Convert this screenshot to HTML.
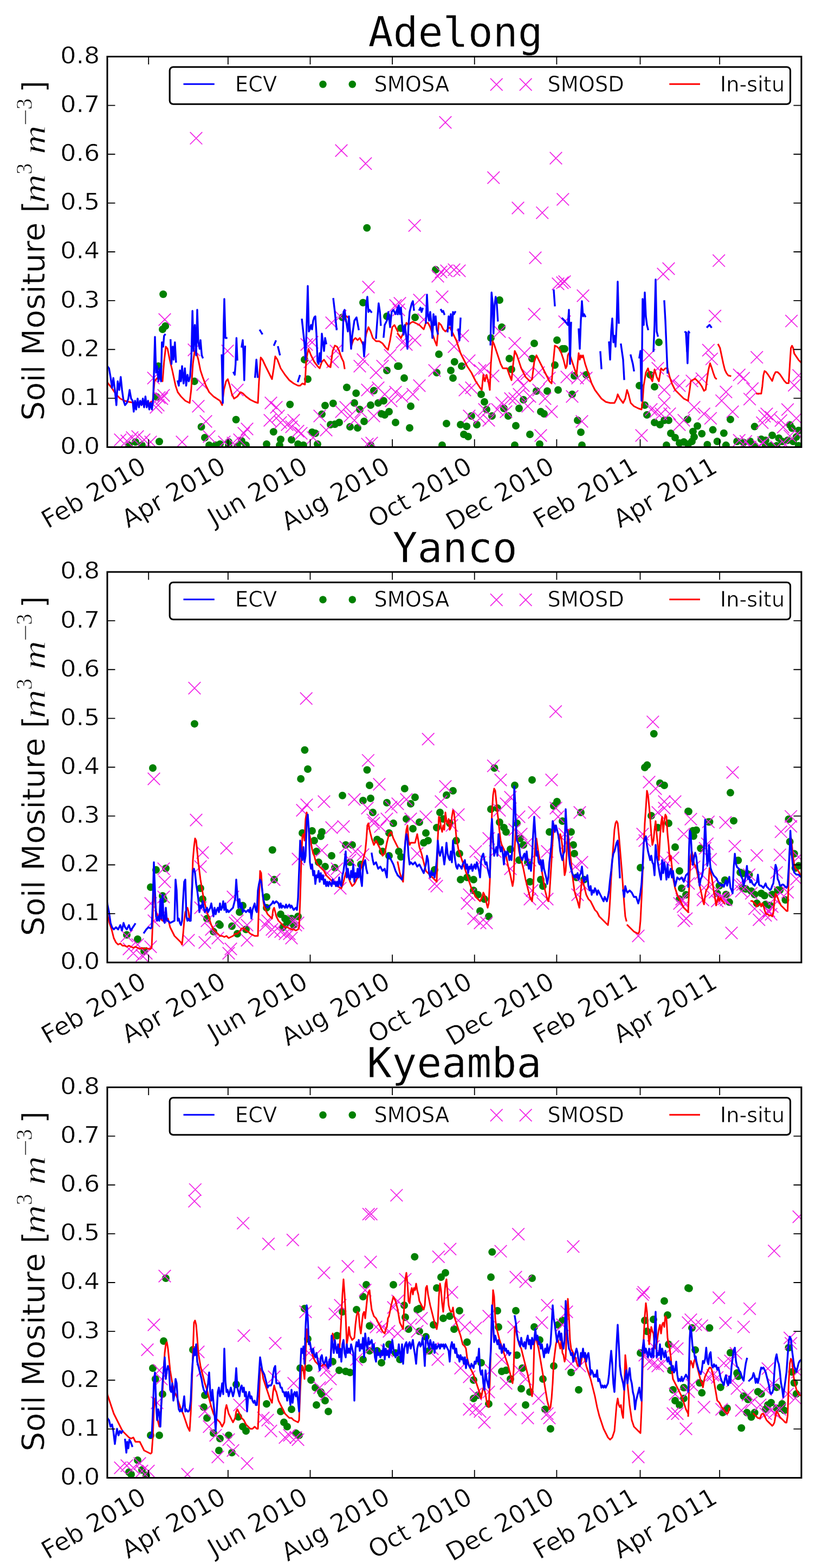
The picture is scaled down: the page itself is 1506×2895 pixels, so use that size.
<!DOCTYPE html><html><head><meta charset="utf-8"><title>Soil moisture</title><style>html,body{margin:0;padding:0;background:#fff;}svg{display:block;}.t{font-family:"DejaVu Sans","Liberation Sans",sans-serif;fill:#000;stroke:#fff;stroke-width:0.55px;}.mono{font-family:"DejaVu Sans Mono","Liberation Mono",monospace;fill:#000;stroke:#fff;stroke-width:0.5px;}.mi{font-family:"Liberation Serif","DejaVu Serif",serif;font-style:italic;fill:#000;stroke:#fff;stroke-width:0.9px;}.sr{font-family:"Liberation Serif","DejaVu Serif",serif;fill:#000;stroke:#fff;stroke-width:0.6px;}</style></head><body>
<svg width="1506" height="2895" viewBox="0 0 1506 2895">
<rect width="1506" height="2895" fill="#fff"/>
<clipPath id="c0"><rect x="198.0" y="104.5" width="1281.0" height="721.0"/></clipPath>
<g clip-path="url(#c0)">
<g fill="#008000"><circle cx="301.2" cy="543.2" r="7.0"/><circle cx="300" cy="608" r="7.0"/><circle cx="305.2" cy="602" r="7.0"/><circle cx="292.4" cy="676" r="7.0"/><circle cx="358.8" cy="704" r="7.0"/><circle cx="288.8" cy="732.8" r="7.0"/><circle cx="294" cy="815.2" r="7.0"/><circle cx="371.6" cy="788" r="7.0"/><circle cx="435.6" cy="774.8" r="7.0"/><circle cx="378" cy="808" r="7.0"/><circle cx="406" cy="820" r="7.0"/><circle cx="422" cy="816" r="7.0"/><circle cx="446" cy="814" r="7.0"/><circle cx="492" cy="820" r="7.0"/><circle cx="504.8" cy="797.2" r="7.0"/><circle cx="518" cy="811.2" r="7.0"/><circle cx="535.2" cy="746.8" r="7.0"/><circle cx="538" cy="812" r="7.0"/><circle cx="550" cy="820" r="7.0"/><circle cx="562" cy="664" r="7.0"/><circle cx="568" cy="700" r="7.0"/><circle cx="576" cy="798" r="7.0"/><circle cx="582" cy="800" r="7.0"/><circle cx="586" cy="820" r="7.0"/><circle cx="594" cy="764.8" r="7.0"/><circle cx="600" cy="748.8" r="7.0"/><circle cx="614.8" cy="744.8" r="7.0"/><circle cx="610" cy="784" r="7.0"/><circle cx="618" cy="783.2" r="7.0"/><circle cx="626" cy="780" r="7.0"/><circle cx="640" cy="715.2" r="7.0"/><circle cx="657.2" cy="726" r="7.0"/><circle cx="654" cy="744" r="7.0"/><circle cx="664" cy="756" r="7.0"/><circle cx="646" cy="788" r="7.0"/><circle cx="660" cy="790" r="7.0"/><circle cx="672" cy="778" r="7.0"/><circle cx="670" cy="558.8" r="7.0"/><circle cx="632" cy="586" r="7.0"/><circle cx="684" cy="748" r="7.0"/><circle cx="690" cy="721.2" r="7.0"/><circle cx="698" cy="744" r="7.0"/><circle cx="714" cy="684" r="7.0"/><circle cx="708" cy="740" r="7.0"/><circle cx="704" cy="764" r="7.0"/><circle cx="710" cy="766" r="7.0"/><circle cx="718" cy="760" r="7.0"/><circle cx="730" cy="780" r="7.0"/><circle cx="734" cy="676" r="7.0"/><circle cx="714" cy="584" r="7.0"/><circle cx="250" cy="816" r="7.0"/><circle cx="238" cy="822" r="7.0"/><circle cx="262" cy="822" r="7.0"/><circle cx="386" cy="822" r="7.0"/><circle cx="398" cy="822" r="7.0"/><circle cx="422" cy="822" r="7.0"/><circle cx="438" cy="824" r="7.0"/><circle cx="454" cy="822" r="7.0"/><circle cx="516" cy="822" r="7.0"/><circle cx="560" cy="822" r="7.0"/><circle cx="684" cy="822" r="7.0"/><circle cx="804" cy="498" r="7.0"/><circle cx="766" cy="586" r="7.0"/><circle cx="740" cy="606" r="7.0"/><circle cx="810" cy="654" r="7.0"/><circle cx="736" cy="676" r="7.0"/><circle cx="746" cy="698" r="7.0"/><circle cx="806" cy="688" r="7.0"/><circle cx="832" cy="684" r="7.0"/><circle cx="836" cy="698" r="7.0"/><circle cx="838.8" cy="668" r="7.0"/><circle cx="852" cy="676" r="7.0"/><circle cx="922" cy="554" r="7.0"/><circle cx="926" cy="604" r="7.0"/><circle cx="906" cy="624" r="7.0"/><circle cx="940" cy="662" r="7.0"/><circle cx="944" cy="682" r="7.0"/><circle cx="986" cy="634" r="7.0"/><circle cx="982" cy="662" r="7.0"/><circle cx="1028" cy="628" r="7.0"/><circle cx="1038" cy="644" r="7.0"/><circle cx="1042" cy="644" r="7.0"/><circle cx="1024" cy="674" r="7.0"/><circle cx="1030" cy="720" r="7.0"/><circle cx="1010" cy="722" r="7.0"/><circle cx="990" cy="722" r="7.0"/><circle cx="966" cy="738" r="7.0"/><circle cx="958" cy="754" r="7.0"/><circle cx="930" cy="754" r="7.0"/><circle cx="938" cy="768" r="7.0"/><circle cx="898" cy="756" r="7.0"/><circle cx="894" cy="742" r="7.0"/><circle cx="888" cy="728" r="7.0"/><circle cx="908" cy="768" r="7.0"/><circle cx="870" cy="768" r="7.0"/><circle cx="880" cy="784" r="7.0"/><circle cx="850" cy="784" r="7.0"/><circle cx="861.2" cy="787.2" r="7.0"/><circle cx="856" cy="802" r="7.0"/><circle cx="864" cy="806" r="7.0"/><circle cx="824" cy="782" r="7.0"/><circle cx="756" cy="790" r="7.0"/><circle cx="758" cy="750" r="7.0"/><circle cx="952" cy="786" r="7.0"/><circle cx="978" cy="802" r="7.0"/><circle cx="998" cy="760" r="7.0"/><circle cx="1004" cy="764" r="7.0"/><circle cx="1056" cy="728" r="7.0"/><circle cx="1060" cy="694" r="7.0"/><circle cx="1082" cy="692" r="7.0"/><circle cx="1066" cy="776" r="7.0"/><circle cx="1072" cy="798" r="7.0"/><circle cx="1074" cy="822" r="7.0"/><circle cx="816" cy="822" r="7.0"/><circle cx="950" cy="822" r="7.0"/><circle cx="996" cy="820" r="7.0"/><circle cx="1180" cy="712" r="7.0"/><circle cx="1190" cy="748" r="7.0"/><circle cx="1194" cy="766" r="7.0"/><circle cx="1208" cy="780" r="7.0"/><circle cx="1218" cy="784" r="7.0"/><circle cx="1226" cy="776" r="7.0"/><circle cx="1234" cy="776" r="7.0"/><circle cx="1208" cy="714" r="7.0"/><circle cx="1216" cy="632" r="7.0"/><circle cx="1200" cy="692" r="7.0"/><circle cx="1238" cy="800" r="7.0"/><circle cx="1246" cy="808" r="7.0"/><circle cx="1254" cy="818" r="7.0"/><circle cx="1262" cy="816" r="7.0"/><circle cx="1270" cy="820" r="7.0"/><circle cx="1230" cy="822" r="7.0"/><circle cx="1348" cy="774.4" r="7.0"/><circle cx="1392.7" cy="787.6" r="7.0"/><circle cx="1315.6" cy="793.6" r="7.0"/><circle cx="1335.9" cy="799.7" r="7.0"/><circle cx="1457.7" cy="784.5" r="7.0"/><circle cx="1461.7" cy="790.6" r="7.0"/><circle cx="1425.2" cy="803.8" r="7.0"/><circle cx="1469.8" cy="806.8" r="7.0"/><circle cx="1473.9" cy="794.7" r="7.0"/><circle cx="1437.4" cy="808.9" r="7.0"/><circle cx="1404.9" cy="810.9" r="7.0"/><circle cx="1413" cy="812.9" r="7.0"/><circle cx="1443.5" cy="815" r="7.0"/><circle cx="1453.6" cy="812.9" r="7.0"/><circle cx="1463.8" cy="815" r="7.0"/><circle cx="1360.2" cy="815" r="7.0"/><circle cx="1372.4" cy="817" r="7.0"/><circle cx="1384.6" cy="815" r="7.0"/><circle cx="1323.7" cy="815" r="7.0"/><circle cx="1305.4" cy="821" r="7.0"/><circle cx="1287.1" cy="786.5" r="7.0"/><circle cx="1279" cy="796.7" r="7.0"/><circle cx="1295.3" cy="800.7" r="7.0"/><circle cx="1281.1" cy="806.8" r="7.0"/><circle cx="1277" cy="815" r="7.0"/><circle cx="1268.9" cy="774.4" r="7.0"/><circle cx="1339.9" cy="822.1" r="7.0"/><circle cx="1413" cy="823.1" r="7.0"/><circle cx="1423.2" cy="823.1" r="7.0"/><circle cx="1433.3" cy="823.1" r="7.0"/><circle cx="1473.9" cy="823.1" r="7.0"/><circle cx="1392.7" cy="823.1" r="7.0"/><circle cx="677.2" cy="420.8" r="7.0"/></g>
<path d="M292.7 578.7L315.3 601.3M292.7 601.3L315.3 578.7M271.9 686.7L294.5 709.3M271.9 709.3L294.5 686.7M282.7 722.7L305.3 745.3M282.7 745.3L305.3 722.7M287.5 724.7L310.1 747.3M287.5 747.3L310.1 724.7M290.7 718.7L313.3 741.3M290.7 741.3L313.3 718.7M280.7 736.7L303.3 759.3M280.7 759.3L303.3 736.7M276.7 740.7L299.3 763.3M276.7 763.3L299.3 740.7M408.7 636.7L431.3 659.3M408.7 659.3L431.3 636.7M346.7 634.7L369.3 657.3M346.7 657.3L369.3 634.7M362.7 698.7L385.3 721.3M362.7 721.3L385.3 698.7M354.7 738.7L377.3 761.3M354.7 761.3L377.3 738.7M368.7 766.7L391.3 789.3M368.7 789.3L391.3 766.7M426.7 708.7L449.3 731.3M426.7 731.3L449.3 708.7M444.7 780.7L467.3 803.3M444.7 803.3L467.3 780.7M438.7 788.7L461.3 811.3M438.7 811.3L461.3 788.7M430.7 800.7L453.3 823.3M430.7 823.3L453.3 800.7M488.7 732.7L511.3 755.3M488.7 755.3L511.3 732.7M498.7 740.7L521.3 763.3M498.7 763.3L521.3 740.7M502.7 756.7L525.3 779.3M502.7 779.3L525.3 756.7M486.7 764.7L509.3 787.3M486.7 787.3L509.3 764.7M506.7 768.7L529.3 791.3M506.7 791.3L529.3 768.7M518.7 772.7L541.3 795.3M518.7 795.3L541.3 772.7M530.7 764.7L553.3 787.3M530.7 787.3L553.3 764.7M526.7 776.7L549.3 799.3M526.7 799.3L549.3 776.7M538.7 784.7L561.3 807.3M538.7 807.3L561.3 784.7M544.7 788.7L567.3 811.3M544.7 811.3L567.3 788.7M554.7 624.7L577.3 647.3M554.7 647.3L577.3 624.7M564.7 620.7L587.3 643.3M564.7 643.3L587.3 620.7M560.7 656.7L583.3 679.3M560.7 679.3L583.3 656.7M600.7 584.7L623.3 607.3M600.7 607.3L623.3 584.7M616.7 572.7L639.3 595.3M616.7 595.3L639.3 572.7M608.7 636.7L631.3 659.3M608.7 659.3L631.3 636.7M602.7 656.7L625.3 679.3M602.7 679.3L625.3 656.7M652.7 664.7L675.3 687.3M652.7 687.3L675.3 664.7M658.7 652.7L681.3 675.3M658.7 675.3L681.3 652.7M682.7 676.7L705.3 699.3M682.7 699.3L705.3 676.7M694.7 664.7L717.3 687.3M694.7 687.3L717.3 664.7M708.7 644.7L731.3 667.3M708.7 667.3L731.3 644.7M666.7 708.7L689.3 731.3M666.7 731.3L689.3 708.7M686.7 704.7L709.3 727.3M686.7 727.3L709.3 704.7M698.7 716.7L721.3 739.3M698.7 739.3L721.3 716.7M710.7 728.7L733.3 751.3M710.7 751.3L733.3 728.7M718.7 712.7L741.3 735.3M718.7 735.3L741.3 712.7M626.7 740.7L649.3 763.3M626.7 763.3L649.3 740.7M618.7 748.7L641.3 771.3M618.7 771.3L641.3 748.7M634.7 756.7L657.3 779.3M634.7 779.3L657.3 756.7M642.7 764.7L665.3 787.3M642.7 787.3L665.3 764.7M654.7 748.7L677.3 771.3M654.7 771.3L677.3 748.7M678.7 756.7L701.3 779.3M678.7 779.3L701.3 756.7M578.7 756.7L601.3 779.3M578.7 779.3L601.3 756.7M590.7 782.7L613.3 805.3M590.7 805.3L613.3 782.7M566.7 796.7L589.3 819.3M566.7 819.3L589.3 796.7M668.7 518.7L691.3 541.3M668.7 541.3L691.3 518.7M718.7 552.7L741.3 575.3M718.7 575.3L741.3 552.7M674.7 806.7L697.3 829.3M674.7 829.3L697.3 806.7M666.7 808.7L689.3 831.3M666.7 831.3L689.3 808.7M210.7 800.7L233.3 823.3M210.7 823.3L233.3 800.7M222.7 802.7L245.3 825.3M222.7 825.3L245.3 802.7M232.7 796.7L255.3 819.3M232.7 819.3L255.3 796.7M242.7 794.7L265.3 817.3M242.7 817.3L265.3 794.7M254.7 800.7L277.3 823.3M254.7 823.3L277.3 800.7M266.7 804.7L289.3 827.3M266.7 827.3L289.3 804.7M324.7 804.7L347.3 827.3M324.7 827.3L347.3 804.7M374.7 794.7L397.3 817.3M374.7 817.3L397.3 794.7M402.7 804.7L425.3 827.3M402.7 827.3L425.3 804.7M418.7 806.7L441.3 829.3M418.7 829.3L441.3 806.7M796.7 498.7L819.3 521.3M796.7 521.3L819.3 498.7M802.7 490.7L825.3 513.3M802.7 513.3L825.3 490.7M812.7 488.7L835.3 511.3M812.7 511.3L835.3 488.7M826.7 486.7L849.3 509.3M826.7 509.3L849.3 486.7M836.7 488.7L859.3 511.3M836.7 511.3L859.3 488.7M804.7 536.7L827.3 559.3M804.7 559.3L827.3 536.7M762.7 542.7L785.3 565.3M762.7 565.3L785.3 542.7M726.7 548.7L749.3 571.3M726.7 571.3L749.3 548.7M724.7 560.7L747.3 583.3M724.7 583.3L747.3 560.7M770.7 578.7L793.3 601.3M770.7 601.3L793.3 578.7M974.7 568.7L997.3 591.3M974.7 591.3L997.3 568.7M1018.7 512.7L1041.3 535.3M1018.7 535.3L1041.3 512.7M1030.7 508.7L1053.3 531.3M1030.7 531.3L1053.3 508.7M1026.7 510.7L1049.3 533.3M1026.7 533.3L1049.3 510.7M1064.7 534.7L1087.3 557.3M1064.7 557.3L1087.3 534.7M1222.7 484.7L1245.3 507.3M1222.7 507.3L1245.3 484.7M1212.7 494.7L1235.3 517.3M1212.7 517.3L1235.3 494.7M1030.7 582.7L1053.3 605.3M1030.7 605.3L1053.3 582.7M938.7 622.7L961.3 645.3M938.7 645.3L961.3 622.7M910.7 600.7L933.3 623.3M910.7 623.3L933.3 600.7M956.7 640.7L979.3 663.3M956.7 663.3L979.3 640.7M826.7 628.7L849.3 651.3M826.7 651.3L849.3 628.7M738.7 624.7L761.3 647.3M738.7 647.3L761.3 624.7M754.7 616.7L777.3 639.3M754.7 639.3L777.3 616.7M730.7 620.7L753.3 643.3M730.7 643.3L753.3 620.7M790.7 672.7L813.3 695.3M790.7 695.3L813.3 672.7M762.7 700.7L785.3 723.3M762.7 723.3L785.3 700.7M750.7 716.7L773.3 739.3M750.7 739.3L773.3 716.7M730.7 720.7L753.3 743.3M730.7 743.3L753.3 720.7M842.7 608.7L865.3 631.3M842.7 631.3L865.3 608.7M854.7 654.7L877.3 677.3M854.7 677.3L877.3 654.7M882.7 668.7L905.3 691.3M882.7 691.3L905.3 668.7M898.7 682.7L921.3 705.3M898.7 705.3L921.3 682.7M874.7 672.7L897.3 695.3M874.7 695.3L897.3 672.7M846.7 708.7L869.3 731.3M846.7 731.3L869.3 708.7M858.7 704.7L881.3 727.3M858.7 727.3L881.3 704.7M944.7 688.7L967.3 711.3M944.7 711.3L967.3 688.7M954.7 700.7L977.3 723.3M954.7 723.3L977.3 700.7M930.7 724.7L953.3 747.3M930.7 747.3L953.3 724.7M914.7 732.7L937.3 755.3M914.7 755.3L937.3 732.7M906.7 744.7L929.3 767.3M906.7 767.3L929.3 744.7M890.7 764.7L913.3 787.3M890.7 787.3L913.3 764.7M874.7 760.7L897.3 783.3M874.7 783.3L897.3 760.7M882.7 744.7L905.3 767.3M882.7 767.3L905.3 744.7M854.7 756.7L877.3 779.3M854.7 779.3L877.3 756.7M922.7 748.7L945.3 771.3M922.7 771.3L945.3 748.7M938.7 724.7L961.3 747.3M938.7 747.3L961.3 724.7M946.7 716.7L969.3 739.3M946.7 739.3L969.3 716.7M962.7 738.7L985.3 761.3M962.7 761.3L985.3 738.7M966.7 720.7L989.3 743.3M966.7 743.3L989.3 720.7M982.7 708.7L1005.3 731.3M982.7 731.3L1005.3 708.7M994.7 724.7L1017.3 747.3M994.7 747.3L1017.3 724.7M1006.7 748.7L1029.3 771.3M1006.7 771.3L1029.3 748.7M986.7 792.7L1009.3 815.3M986.7 815.3L1009.3 792.7M960.7 678.7L983.3 701.3M960.7 701.3L983.3 678.7M982.7 676.7L1005.3 699.3M982.7 699.3L1005.3 676.7M1002.7 686.7L1025.3 709.3M1002.7 709.3L1025.3 686.7M1034.7 684.7L1057.3 707.3M1034.7 707.3L1057.3 684.7M1054.7 686.7L1077.3 709.3M1054.7 709.3L1077.3 686.7M1070.7 686.7L1093.3 709.3M1070.7 709.3L1093.3 686.7M1044.7 720.7L1067.3 743.3M1044.7 743.3L1067.3 720.7M1062.7 766.7L1085.3 789.3M1062.7 789.3L1085.3 766.7M1186.7 644.7L1209.3 667.3M1186.7 667.3L1209.3 644.7M1202.7 668.7L1225.3 691.3M1202.7 691.3L1225.3 668.7M1230.7 692.7L1253.3 715.3M1230.7 715.3L1253.3 692.7M1242.7 700.7L1265.3 723.3M1242.7 723.3L1265.3 700.7M1214.7 708.7L1237.3 731.3M1214.7 731.3L1237.3 708.7M1214.7 732.7L1237.3 755.3M1214.7 755.3L1237.3 732.7M1198.7 748.7L1221.3 771.3M1198.7 771.3L1221.3 748.7M1190.7 744.7L1213.3 767.3M1190.7 767.3L1213.3 744.7M1208.7 752.7L1231.3 775.3M1208.7 775.3L1231.3 752.7M1224.7 752.7L1247.3 775.3M1224.7 775.3L1247.3 752.7M1242.7 772.7L1265.3 795.3M1242.7 795.3L1265.3 772.7M1250.7 764.7L1273.3 787.3M1250.7 787.3L1273.3 764.7M1172.7 792.7L1195.3 815.3M1172.7 815.3L1195.3 792.7M1308.3 572.2L1330.9 594.8M1308.3 594.8L1330.9 572.2M1449.4 581.4L1472 604M1449.4 604L1472 581.4M1296.1 635.2L1318.7 657.8M1296.1 657.8L1318.7 635.2M1302.2 651.4L1324.8 674M1302.2 674L1324.8 651.4M1385.5 648.4L1408.1 671M1385.5 671L1408.1 648.4M1353 680.8L1375.6 703.4M1353 703.4L1375.6 680.8M1361.1 686.9L1383.7 709.5M1361.1 709.5L1383.7 686.9M1377.3 706.2L1399.9 728.8M1377.3 728.8L1399.9 706.2M1372.3 725.5L1394.9 748.1M1372.3 748.1L1394.9 725.5M1328.6 712.3L1351.2 734.9M1328.6 734.9L1351.2 712.3M1320.5 728.5L1343.1 751.1M1320.5 751.1L1343.1 728.5M1340.8 748.8L1363.4 771.4M1340.8 771.4L1363.4 748.8M1288 752.9L1310.6 775.5M1288 775.5L1310.6 752.9M1300.2 761L1322.8 783.6M1300.2 783.6L1322.8 761M1269.8 740.7L1292.4 763.3M1269.8 763.3L1292.4 740.7M1265.7 692L1288.3 714.6M1265.7 714.6L1288.3 692M1284 687.9L1306.6 710.5M1284 710.5L1306.6 687.9M1454.5 700.1L1477.1 722.7M1454.5 722.7L1477.1 700.1M1462.6 681.9L1485.2 704.5M1462.6 704.5L1485.2 681.9M1442.3 744.8L1464.9 767.4M1442.3 767.4L1464.9 744.8M1399.7 757L1422.3 779.6M1399.7 779.6L1422.3 757M1395.6 769.1L1418.2 791.7M1395.6 791.7L1418.2 769.1M1403.7 752.9L1426.3 775.5M1403.7 775.5L1426.3 752.9M1411.9 759L1434.5 781.6M1411.9 781.6L1434.5 759M1430.1 765.1L1452.7 787.7M1430.1 787.7L1452.7 765.1M1434.2 777.3L1456.8 799.9M1434.2 799.9L1456.8 777.3M1458.5 761L1481.1 783.6M1458.5 783.6L1481.1 761M1365.2 803.7L1387.8 826.3M1365.2 826.3L1387.8 803.7M1353 801.6L1375.6 824.2M1353 824.2L1375.6 801.6M1397.6 805.7L1420.2 828.3M1397.6 828.3L1420.2 805.7M1446.4 793.5L1469 816.1M1446.4 816.1L1469 793.5M1460.6 789.4L1483.2 812M1460.6 812L1483.2 789.4M1438.2 809.7L1460.8 832.3M1438.2 832.3L1460.8 809.7M1373.3 813.8L1395.9 836.4M1373.3 836.4L1395.9 813.8M1389.5 811.8L1412.1 834.4M1389.5 834.4L1412.1 811.8M1422 813.8L1444.6 836.4M1422 836.4L1444.6 813.8M350.7 243.9L373.3 266.5M350.7 266.5L373.3 243.9M618.7 266.7L641.3 289.3M618.7 289.3L641.3 266.7M663.5 290.7L686.1 313.3M663.5 313.3L686.1 290.7M810.7 214.7L833.3 237.3M810.7 237.3L833.3 214.7M1014.7 280.7L1037.3 303.3M1014.7 303.3L1037.3 280.7M899.5 316.7L922.1 339.3M899.5 339.3L922.1 316.7M1027.5 356.7L1050.1 379.3M1027.5 379.3L1050.1 356.7M944.7 372.7L967.3 395.3M944.7 395.3L967.3 372.7M989.5 381.5L1012.1 404.1M989.5 404.1L1012.1 381.5M753.9 405.1L776.5 427.7M753.9 427.7L776.5 405.1M976.7 464.7L999.3 487.3M976.7 487.3L999.3 464.7M1315.4 469.9L1338 492.5M1315.4 492.5L1338 469.9" stroke="#f020e6" stroke-width="1.7" fill="none"/>
<polyline points="198,706 206,716 214,728 222,736 230,740 238,742 250,744 262,746 274,746 282,740 285.2,704 290,698 296,700 300,704 302.8,668 306,640 309.2,644 313.2,664 318,684 324,712 328,724 334,732 342,740 350,744 352.8,720 356,672 359.2,648 362.8,652 366,664 370,684 374,696 380,712 386,724 394,732 400,736 406,740 410,748 413.2,720 417.2,704 420.4,700 424,712 428,728 432,736 438,732 444,724 448,726 454,732 462,738 470,742 476,744 478,704 481.2,660 484.4,664 490,676 496,688 502,700 505.2,680 508,658 512,664 518,680 526,692 534,702 542,708 550,712 554,712 558,708 562.8,710 565.2,664 569.2,644 574,656 580,668 586,676 590,680 594,668 598,664 602,670 606,676 610,678 614,648 618,638 622,640 626,648 630,660 634,668 636,680" fill="none" stroke="#ff0000" stroke-width="3" stroke-linejoin="round" stroke-linecap="square"/>
<polyline points="640,584 644,588 648,640 652,628 656,624 660,628 664,624 668,632 672,640 676,616 680,604 684,612 688,624 694,630 700,630 706,634 712,642 716,646 720,628 724,604 728,600 734,612" fill="none" stroke="#ff0000" stroke-width="3" stroke-linejoin="round" stroke-linecap="square"/>
<polyline points="734,616 740,624 746,612 750,596 754,600 758,596 762,594 766,596 770,598 774,600 778,604 782,608 786,596 790,596 794,604 798,616 802,628 806,638 808,616 810,596 814,600 818,608 822,612 826,608 830,604 834,612 838,620 842,628 846,640 850,652 854,660 858,668 862,676 870,688 874,696 878,704 882,710 886,716 889.2,720 892,692 894.8,704 898,692 901.2,704 904,720 906,672 909.2,630 912,636 916,648 920,660 924,672 928,680 932,680 936,680 940,692 944,702 948,664 950,648 954,656 958,668 962,680 966,688 970,696 974,700 978,704 982,700 986,668 990,656 994,664 998,672 1002,680 1006,688 1010,696 1014,704 1018,708 1021.2,668 1024,638 1028,640 1032,644 1036,652 1040,664 1044,680 1046,676 1048,656 1050,652 1052,656 1056,668 1060,680 1064,692 1068,652 1070,664 1072,656 1074,660 1076,656 1080,672 1084,684 1088,696 1092,708 1098,720 1104,728 1110,736 1118,742 1126,744 1134,744 1138,736 1140,728 1144,736 1150,744 1154,736 1157.2,720 1160,728 1164,744 1170,750 1178,754 1184,756 1186,740 1188,712 1192,688 1196,680 1200,696 1204,704 1208,682 1212,696 1216,704 1220,680 1224,684 1228,680 1232,680 1236,696 1240,708 1246,720 1254,728 1262,736 1270,740" fill="none" stroke="#ff0000" stroke-width="3" stroke-linejoin="round" stroke-linecap="square"/>
<polyline points="1270.1,737.8 1272.9,719.5 1275,703.3 1279,701.3 1283.1,699.2 1287.1,703.3 1291.2,707.4 1295.3,713.5 1299.3,721.6 1302.4,719.5 1304.4,703.3 1307.4,683 1310.5,670.8 1313.5,678.9 1316.6,689.1 1319.6,697.2 1321.7,699.2" fill="none" stroke="#ff0000" stroke-width="3" stroke-linejoin="round" stroke-linecap="square"/>
<polyline points="1325.7,636.3 1328.8,642.4 1331.8,656.6 1334.8,670.8 1337.9,683 1340.9,689.1 1344,693.2 1348,694.2" fill="none" stroke="#ff0000" stroke-width="3" stroke-linejoin="round" stroke-linecap="square"/>
<polyline points="1396.8,726.7 1404.9,726.7 1406.9,713.5 1408.9,693.2 1411,685 1414,687.1 1417.1,691.1 1421.1,697.2 1425.2,703.3 1428.2,693.2 1431.3,687.1 1435.3,687.1 1439.4,691.1 1443.5,697.2 1447.5,703.3 1451.6,707.4 1455.6,707.4 1457.7,672.9 1459.7,642.4 1461.7,638.3 1463.8,642.4 1465.8,652.6 1469.8,658.6 1473.9,664.7 1482,672.9" fill="none" stroke="#ff0000" stroke-width="3" stroke-linejoin="round" stroke-linecap="square"/>
<polyline points="198,676 201.2,680 204,696 206.8,716 209.2,698 212,720 214.8,748 217.2,704 220,720 222.8,696 225.2,720 228,740 230.8,748 234,744 236.8,736 239.2,720 242,736 244.8,740 246.8,760 249.2,740 251.2,756 254,736 256.4,752 258.8,740 261.2,748 263.6,736 266,752 268.4,732 270.8,752 273.2,740 275.6,756 278,744 280.4,756 282.8,736 284.4,680 286,622 288,688 290,676 292.4,704 294.8,680 297.2,704 298.8,632 301.2,640 302.8,620 304.4,618" fill="none" stroke="#0000ff" stroke-width="3.4" stroke-linejoin="round" stroke-linecap="square"/>
<polyline points="314.8,628 316.4,672 318.8,640 320.4,664 322.8,632 324.8,668" fill="none" stroke="#0000ff" stroke-width="3.4" stroke-linejoin="round" stroke-linecap="square"/>
<polyline points="328,704 330,712 332,684 334,704 336,676 338.8,708 341.2,680 343.6,712 346,692 348.4,704 350.8,696 353.2,660 355.2,574 357.2,648 359.6,600 362,656 364,572 366,632 368.4,644 370,628 372.4,656 374,660" fill="none" stroke="#0000ff" stroke-width="3.4" stroke-linejoin="round" stroke-linecap="square"/>
<polyline points="409.2,656 411.2,744 412.8,600 414,552 416,624 418,624" fill="none" stroke="#0000ff" stroke-width="3.4" stroke-linejoin="round" stroke-linecap="square"/>
<polyline points="431.2,688 433.2,692 434.8,672 436.4,624 438,664" fill="none" stroke="#0000ff" stroke-width="3.4" stroke-linejoin="round" stroke-linecap="square"/>
<polyline points="446,640 448,628 449.2,648 450.8,702 452.4,640" fill="none" stroke="#0000ff" stroke-width="3.4" stroke-linejoin="round" stroke-linecap="square"/>
<polyline points="470.8,696 473.2,664 475.6,696" fill="none" stroke="#0000ff" stroke-width="3.4" stroke-linejoin="round" stroke-linecap="square"/>
<polyline points="480,610 483.6,616" fill="none" stroke="#0000ff" stroke-width="3.4" stroke-linejoin="round" stroke-linecap="square"/>
<polyline points="506,636.8 508.8,630" fill="none" stroke="#0000ff" stroke-width="3.4" stroke-linejoin="round" stroke-linecap="square"/>
<polyline points="513.2,640.8 516.4,654.4" fill="none" stroke="#0000ff" stroke-width="3.4" stroke-linejoin="round" stroke-linecap="square"/>
<polyline points="550,704 553.2,694" fill="none" stroke="#0000ff" stroke-width="3.4" stroke-linejoin="round" stroke-linecap="square"/>
<polyline points="557.2,590 560,616 562,636 564,664 566,600 568,528 570,612 572,608 574,600 576,608 578,592 580,586 582,584 584,616 586,668 588,672 590,652 592,668 594,616 596,632 598,648 600,624 602,634" fill="none" stroke="#0000ff" stroke-width="3.4" stroke-linejoin="round" stroke-linecap="square"/>
<polyline points="615.2,552 618,576 621.2,608" fill="none" stroke="#0000ff" stroke-width="3.4" stroke-linejoin="round" stroke-linecap="square"/>
<polyline points="632,648 634,576 636,572 638,588 642,612 644,584 646,612 648,644 650,620 654,592 658,586 662,608" fill="none" stroke="#0000ff" stroke-width="3.4" stroke-linejoin="round" stroke-linecap="square"/>
<polyline points="670,632 672,658 674,632 676,560 678,548 680,576 682,572 685.2,576" fill="none" stroke="#0000ff" stroke-width="3.4" stroke-linejoin="round" stroke-linecap="square"/>
<polyline points="694,624 696,596 698.8,560 701.2,576 702.8,600" fill="none" stroke="#0000ff" stroke-width="3.4" stroke-linejoin="round" stroke-linecap="square"/>
<polyline points="708,622 710,600 714,592 716.8,576 720,604 722.8,576 726,572 730,580 734,568" fill="none" stroke="#0000ff" stroke-width="3.4" stroke-linejoin="round" stroke-linecap="square"/>
<polyline points="734,580 736,564 738,580 740,568 742,596 744.8,618 747.2,600 750,624 752,644 754,600 756,576 758,568 760,560 762,556 764,572" fill="none" stroke="#0000ff" stroke-width="3.4" stroke-linejoin="round" stroke-linecap="square"/>
<polyline points="774,572 776,568 778,576 780,570" fill="none" stroke="#0000ff" stroke-width="3.4" stroke-linejoin="round" stroke-linecap="square"/>
<polyline points="786,596 788,544 790,584 792,592 794,576 796,596 798,624 800,580 802,600 804,584 806,608 808,616" fill="none" stroke="#0000ff" stroke-width="3.4" stroke-linejoin="round" stroke-linecap="square"/>
<polyline points="814,572 816,576 818,574 820,580" fill="none" stroke="#0000ff" stroke-width="3.4" stroke-linejoin="round" stroke-linecap="square"/>
<polyline points="826,612 828,584 830,600 832,580 834,620 836,576 838,580 840,576" fill="none" stroke="#0000ff" stroke-width="3.4" stroke-linejoin="round" stroke-linecap="square"/>
<polyline points="846,608 848,628 850,588" fill="none" stroke="#0000ff" stroke-width="3.4" stroke-linejoin="round" stroke-linecap="square"/>
<polyline points="905.2,636 907.2,540 909.2,560 910.8,616 912.8,564 914.8,548 916.8,560 918.8,592" fill="none" stroke="#0000ff" stroke-width="3.4" stroke-linejoin="round" stroke-linecap="square"/>
<polyline points="1022,536 1024,564" fill="none" stroke="#0000ff" stroke-width="3.4" stroke-linejoin="round" stroke-linecap="square"/>
<polyline points="1038,588 1042,592 1048,600 1050,572 1052,672 1054,596" fill="none" stroke="#0000ff" stroke-width="3.4" stroke-linejoin="round" stroke-linecap="square"/>
<polyline points="1068,608 1070,644 1072,592 1074,556 1076,584 1078,580 1080,584" fill="none" stroke="#0000ff" stroke-width="3.4" stroke-linejoin="round" stroke-linecap="square"/>
<polyline points="1108,650 1110,680" fill="none" stroke="#0000ff" stroke-width="3.4" stroke-linejoin="round" stroke-linecap="square"/>
<polyline points="1124,632 1126,664 1128,612 1130,588 1132,632 1134,620 1136,640 1138,600 1140,520 1142,596" fill="none" stroke="#0000ff" stroke-width="3.4" stroke-linejoin="round" stroke-linecap="square"/>
<polyline points="1146,636 1150,664 1152,700" fill="none" stroke="#0000ff" stroke-width="3.4" stroke-linejoin="round" stroke-linecap="square"/>
<polyline points="1164,656 1168,672 1170,684" fill="none" stroke="#0000ff" stroke-width="3.4" stroke-linejoin="round" stroke-linecap="square"/>
<polyline points="1180,660 1182,648 1184,740 1186,552 1188,600 1190,540 1192,584 1194,600 1196,608" fill="none" stroke="#0000ff" stroke-width="3.4" stroke-linejoin="round" stroke-linecap="square"/>
<polyline points="1206,648 1208,600 1210,516 1212,612 1214,620" fill="none" stroke="#0000ff" stroke-width="3.4" stroke-linejoin="round" stroke-linecap="square"/>
<polyline points="1226,556 1228,592 1230,640 1232,688" fill="none" stroke="#0000ff" stroke-width="3.4" stroke-linejoin="round" stroke-linecap="square"/>
<polyline points="1266,616 1268,648" fill="none" stroke="#0000ff" stroke-width="3.4" stroke-linejoin="round" stroke-linecap="square"/>
<polyline points="1264.8,613 1266.8,614 1268.9,670.8 1270.9,612 1271.9,614" fill="none" stroke="#0000ff" stroke-width="3.4" stroke-linejoin="round" stroke-linecap="square"/>
<polyline points="1305.4,603.8 1309.5,599.8 1312.5,603.8" fill="none" stroke="#0000ff" stroke-width="3.4" stroke-linejoin="round" stroke-linecap="square"/>
</g>
<path d="M198.0 825.50h14.5M1479.0 825.50h-14.5M198.0 735.38h14.5M1479.0 735.38h-14.5M198.0 645.25h14.5M1479.0 645.25h-14.5M198.0 555.12h14.5M1479.0 555.12h-14.5M198.0 465.00h14.5M1479.0 465.00h-14.5M198.0 374.88h14.5M1479.0 374.88h-14.5M198.0 284.75h14.5M1479.0 284.75h-14.5M198.0 194.62h14.5M1479.0 194.62h-14.5M198.0 104.50h14.5M1479.0 104.50h-14.5M274.20 104.5v14.5M274.20 825.5v-14.5M420.86 104.5v14.5M420.86 825.5v-14.5M572.50 104.5v14.5M572.50 825.5v-14.5M724.13 104.5v14.5M724.13 825.5v-14.5M875.76 104.5v14.5M875.76 825.5v-14.5M1027.40 104.5v14.5M1027.40 825.5v-14.5M1181.52 104.5v14.5M1181.52 825.5v-14.5M1328.18 104.5v14.5M1328.18 825.5v-14.5" stroke="#000" stroke-width="1.8" fill="none"/>
<rect x="198.0" y="104.5" width="1281.0" height="721.0" fill="none" stroke="#000" stroke-width="3.0"/>
<rect x="313.2" y="123.7" width="1145.3999999999999" height="68.60000000000001" rx="6.5" ry="6.5" fill="#fff" stroke="#000" stroke-width="3.1"/>
<line x1="338.5" y1="155.3" x2="395.8" y2="155.3" stroke="#0000ff" stroke-width="3"/>
<circle cx="596" cy="155.60000000000002" r="6.8" fill="#008000"/><circle cx="650.3" cy="155.60000000000002" r="6.8" fill="#008000"/>
<path d="M905.0 144.7l22.6 22.6m0 -22.6l-22.6 22.6M958.9000000000001 144.7l22.6 22.6m0 -22.6l-22.6 22.6" stroke="#f020e6" stroke-width="1.7" fill="none"/>
<line x1="1235.3" y1="155.3" x2="1292" y2="155.3" stroke="#ff0000" stroke-width="3"/>
<text class="t" x="434.0" y="168.5" font-size="38.3">ECV</text>
<text class="t" x="690.5" y="168.5" font-size="38.3">SMOSA</text>
<text class="t" x="1010.5" y="168.5" font-size="38.3">SMOSD</text>
<text class="t" x="1328.9" y="168.5" font-size="38.3">In-situ</text>
<text class="t" transform="translate(184.2 837.90) scale(1.055 1)" font-size="43.5" text-anchor="end">0.0</text>
<text class="t" transform="translate(184.2 747.77) scale(1.055 1)" font-size="43.5" text-anchor="end">0.1</text>
<text class="t" transform="translate(184.2 657.65) scale(1.055 1)" font-size="43.5" text-anchor="end">0.2</text>
<text class="t" transform="translate(184.2 567.52) scale(1.055 1)" font-size="43.5" text-anchor="end">0.3</text>
<text class="t" transform="translate(184.2 477.40) scale(1.055 1)" font-size="43.5" text-anchor="end">0.4</text>
<text class="t" transform="translate(184.2 387.27) scale(1.055 1)" font-size="43.5" text-anchor="end">0.5</text>
<text class="t" transform="translate(184.2 297.15) scale(1.055 1)" font-size="43.5" text-anchor="end">0.6</text>
<text class="t" transform="translate(184.2 207.03) scale(1.055 1)" font-size="43.5" text-anchor="end">0.7</text>
<text class="t" transform="translate(184.2 116.90) scale(1.055 1)" font-size="43.5" text-anchor="end">0.8</text>
<text class="t" x="272.90" y="870.10" font-size="46" text-anchor="end" transform="rotate(-30 272.90 870.10)">Feb 2010</text>
<text class="t" x="419.56" y="870.10" font-size="46" text-anchor="end" transform="rotate(-30 419.56 870.10)">Apr 2010</text>
<text class="t" x="571.20" y="870.10" font-size="46" text-anchor="end" transform="rotate(-30 571.20 870.10)">Jun 2010</text>
<text class="t" x="722.83" y="870.10" font-size="46" text-anchor="end" transform="rotate(-30 722.83 870.10)">Aug 2010</text>
<text class="t" x="874.46" y="870.10" font-size="46" text-anchor="end" transform="rotate(-30 874.46 870.10)">Oct 2010</text>
<text class="t" x="1026.10" y="870.10" font-size="46" text-anchor="end" transform="rotate(-30 1026.10 870.10)">Dec 2010</text>
<text class="t" x="1180.22" y="870.10" font-size="46" text-anchor="end" transform="rotate(-30 1180.22 870.10)">Feb 2011</text>
<text class="t" x="1326.88" y="870.10" font-size="46" text-anchor="end" transform="rotate(-30 1326.88 870.10)">Apr 2011</text>
<text class="mono" x="840.7" y="86.0" font-size="76.5" text-anchor="middle">Adelong</text>
<g transform="translate(81.5 773.00) rotate(-90)">
<text class="t" x="-3.8" y="0" font-size="57">Soil Mositure</text>
<text class="t" x="380" y="0" font-size="57">[</text>
<text class="mi" transform="translate(398 1.2) scale(1.252 1)" x="0" y="0" font-size="59">m</text>
<text class="mi" transform="translate(488.2 1.2) scale(1.252 1)" x="0" y="0" font-size="59">m</text>
<text x="451" y="-22.2" font-size="41.4" class="sr">3</text>
<text transform="translate(540.5 -20.4) scale(1.35 1)" x="0" y="0" font-size="41.4" class="sr">&#8722;</text>
<text x="570.8" y="-22.2" font-size="41.4" class="sr">3</text>
<text class="t" x="602" y="0" font-size="57">]</text>
</g>
<clipPath id="c1"><rect x="198.0" y="1056.0" width="1281.0" height="721.0"/></clipPath>
<g clip-path="url(#c1)">
<g fill="#008000"><circle cx="555.2" cy="1438" r="7.0"/><circle cx="682" cy="1450" r="7.0"/><circle cx="684" cy="1474" r="7.0"/><circle cx="670" cy="1478" r="7.0"/><circle cx="632" cy="1468.8" r="7.0"/><circle cx="714" cy="1482" r="7.0"/><circle cx="688" cy="1500" r="7.0"/><circle cx="726" cy="1520" r="7.0"/><circle cx="718" cy="1538" r="7.0"/><circle cx="696" cy="1550" r="7.0"/><circle cx="702" cy="1554" r="7.0"/><circle cx="576" cy="1534" r="7.0"/><circle cx="558" cy="1538" r="7.0"/><circle cx="594" cy="1536" r="7.0"/><circle cx="592" cy="1544" r="7.0"/><circle cx="580" cy="1552" r="7.0"/><circle cx="584" cy="1572" r="7.0"/><circle cx="612" cy="1580" r="7.0"/><circle cx="588" cy="1592" r="7.0"/><circle cx="600" cy="1600" r="7.0"/><circle cx="618" cy="1602" r="7.0"/><circle cx="638" cy="1560" r="7.0"/><circle cx="650" cy="1560" r="7.0"/><circle cx="646" cy="1592" r="7.0"/><circle cx="666" cy="1596" r="7.0"/><circle cx="706" cy="1572" r="7.0"/><circle cx="718" cy="1580" r="7.0"/><circle cx="502.8" cy="1569.2" r="7.0"/><circle cx="506" cy="1624" r="7.0"/><circle cx="288" cy="1606" r="7.0"/><circle cx="306" cy="1603.2" r="7.0"/><circle cx="278" cy="1638" r="7.0"/><circle cx="300" cy="1654" r="7.0"/><circle cx="302" cy="1660" r="7.0"/><circle cx="254" cy="1734" r="7.0"/><circle cx="234" cy="1726" r="7.0"/><circle cx="266" cy="1756" r="7.0"/><circle cx="370" cy="1640" r="7.0"/><circle cx="374" cy="1660" r="7.0"/><circle cx="382" cy="1696" r="7.0"/><circle cx="394" cy="1720" r="7.0"/><circle cx="404" cy="1706" r="7.0"/><circle cx="406" cy="1708" r="7.0"/><circle cx="428" cy="1710" r="7.0"/><circle cx="442" cy="1684" r="7.0"/><circle cx="448" cy="1672" r="7.0"/><circle cx="454" cy="1716" r="7.0"/><circle cx="492" cy="1656" r="7.0"/><circle cx="492" cy="1676" r="7.0"/><circle cx="518" cy="1688" r="7.0"/><circle cx="526" cy="1696" r="7.0"/><circle cx="538" cy="1696" r="7.0"/><circle cx="550" cy="1692" r="7.0"/><circle cx="530" cy="1704" r="7.0"/><circle cx="522" cy="1712" r="7.0"/><circle cx="542" cy="1708" r="7.0"/><circle cx="438" cy="1724" r="7.0"/><circle cx="746.8" cy="1456" r="7.0"/><circle cx="766" cy="1472" r="7.0"/><circle cx="758" cy="1484" r="7.0"/><circle cx="750" cy="1512" r="7.0"/><circle cx="774" cy="1518" r="7.0"/><circle cx="762" cy="1530" r="7.0"/><circle cx="786" cy="1538" r="7.0"/><circle cx="790" cy="1552" r="7.0"/><circle cx="782" cy="1556" r="7.0"/><circle cx="736" cy="1572" r="7.0"/><circle cx="740" cy="1582" r="7.0"/><circle cx="802" cy="1606" r="7.0"/><circle cx="824" cy="1468" r="7.0"/><circle cx="836" cy="1460" r="7.0"/><circle cx="812" cy="1500" r="7.0"/><circle cx="818" cy="1512" r="7.0"/><circle cx="830" cy="1520" r="7.0"/><circle cx="806" cy="1528" r="7.0"/><circle cx="842" cy="1552" r="7.0"/><circle cx="848" cy="1576" r="7.0"/><circle cx="850" cy="1624" r="7.0"/><circle cx="862" cy="1620" r="7.0"/><circle cx="874" cy="1624" r="7.0"/><circle cx="874" cy="1644" r="7.0"/><circle cx="882" cy="1652" r="7.0"/><circle cx="894" cy="1660" r="7.0"/><circle cx="886" cy="1682" r="7.0"/><circle cx="902" cy="1692" r="7.0"/><circle cx="950" cy="1450" r="7.0"/><circle cx="982" cy="1440" r="7.0"/><circle cx="906" cy="1494" r="7.0"/><circle cx="918" cy="1492" r="7.0"/><circle cx="922" cy="1518" r="7.0"/><circle cx="930" cy="1528" r="7.0"/><circle cx="934" cy="1536" r="7.0"/><circle cx="954" cy="1520" r="7.0"/><circle cx="960" cy="1548" r="7.0"/><circle cx="966" cy="1560" r="7.0"/><circle cx="942" cy="1568" r="7.0"/><circle cx="958" cy="1588" r="7.0"/><circle cx="974" cy="1592" r="7.0"/><circle cx="978" cy="1628" r="7.0"/><circle cx="998" cy="1624" r="7.0"/><circle cx="1002" cy="1636" r="7.0"/><circle cx="1028" cy="1480" r="7.0"/><circle cx="1022" cy="1488" r="7.0"/><circle cx="1038" cy="1516" r="7.0"/><circle cx="1014" cy="1536" r="7.0"/><circle cx="1054" cy="1536" r="7.0"/><circle cx="1058" cy="1560" r="7.0"/><circle cx="1060" cy="1576" r="7.0"/><circle cx="1072" cy="1500" r="7.0"/><circle cx="1064" cy="1620" r="7.0"/><circle cx="1078" cy="1624" r="7.0"/><circle cx="1218" cy="1446" r="7.0"/><circle cx="1226" cy="1450" r="7.0"/><circle cx="1202" cy="1506" r="7.0"/><circle cx="1234" cy="1520" r="7.0"/><circle cx="1214" cy="1528" r="7.0"/><circle cx="1246" cy="1564" r="7.0"/><circle cx="1182" cy="1602" r="7.0"/><circle cx="1254" cy="1608" r="7.0"/><circle cx="1258" cy="1640" r="7.0"/><circle cx="1266" cy="1652" r="7.0"/><circle cx="1270" cy="1498" r="7.0"/><circle cx="1254" cy="1660" r="7.0"/><circle cx="1270.9" cy="1498.2" r="7.0"/><circle cx="1279" cy="1533.7" r="7.0"/><circle cx="1285.1" cy="1532.7" r="7.0"/><circle cx="1280" cy="1543.8" r="7.0"/><circle cx="1293.2" cy="1566.2" r="7.0"/><circle cx="1307.4" cy="1517.4" r="7.0"/><circle cx="1309.5" cy="1517.4" r="7.0"/><circle cx="1348" cy="1463.6" r="7.0"/><circle cx="1354.1" cy="1515.4" r="7.0"/><circle cx="1337.9" cy="1625" r="7.0"/><circle cx="1339.9" cy="1651.4" r="7.0"/><circle cx="1346" cy="1665.6" r="7.0"/><circle cx="1362.3" cy="1588.5" r="7.0"/><circle cx="1366.3" cy="1610.8" r="7.0"/><circle cx="1370.4" cy="1612.9" r="7.0"/><circle cx="1378.5" cy="1612.9" r="7.0"/><circle cx="1382.6" cy="1614.9" r="7.0"/><circle cx="1370.4" cy="1639.2" r="7.0"/><circle cx="1376.5" cy="1641.3" r="7.0"/><circle cx="1386.6" cy="1645.3" r="7.0"/><circle cx="1392.7" cy="1651.4" r="7.0"/><circle cx="1396.8" cy="1667.7" r="7.0"/><circle cx="1404.9" cy="1649.4" r="7.0"/><circle cx="1411" cy="1653.5" r="7.0"/><circle cx="1413" cy="1669.7" r="7.0"/><circle cx="1421.1" cy="1671.7" r="7.0"/><circle cx="1425.2" cy="1651.4" r="7.0"/><circle cx="1435.3" cy="1643.3" r="7.0"/><circle cx="1439.4" cy="1643.3" r="7.0"/><circle cx="1449.5" cy="1661.6" r="7.0"/><circle cx="1455.6" cy="1512.4" r="7.0"/><circle cx="1457.7" cy="1554" r="7.0"/><circle cx="1465.8" cy="1576.3" r="7.0"/><circle cx="1467.8" cy="1602.7" r="7.0"/><circle cx="1473.9" cy="1598.6" r="7.0"/><circle cx="1327.7" cy="1635.2" r="7.0"/><circle cx="1323.7" cy="1649.4" r="7.0"/><circle cx="359" cy="1336.4" r="7.0"/><circle cx="562.4" cy="1384.7" r="7.0"/><circle cx="1206.8" cy="1354.8" r="7.0"/><circle cx="1194.4" cy="1412.6" r="7.0"/><circle cx="282" cy="1418" r="7.0"/><circle cx="568" cy="1420" r="7.0"/><circle cx="677.5" cy="1421.5" r="7.0"/><circle cx="912.5" cy="1418" r="7.0"/><circle cx="1190" cy="1417" r="7.0"/></g>
<path d="M272.7 1426.7L295.3 1449.3M272.7 1449.3L295.3 1426.7M350.7 1502.7L373.3 1525.3M350.7 1525.3L373.3 1502.7M362.7 1562.7L385.3 1585.3M362.7 1585.3L385.3 1562.7M406.7 1554.7L429.3 1577.3M406.7 1577.3L429.3 1554.7M494.7 1612.7L517.3 1635.3M494.7 1635.3L517.3 1612.7M546.7 1484.7L569.3 1507.3M546.7 1507.3L569.3 1484.7M554.7 1474.7L577.3 1497.3M554.7 1497.3L577.3 1474.7M586.7 1468.7L609.3 1491.3M586.7 1491.3L609.3 1468.7M642.7 1464.7L665.3 1487.3M642.7 1487.3L665.3 1464.7M688.7 1436.7L711.3 1459.3M688.7 1459.3L711.3 1436.7M710.7 1478.7L733.3 1501.3M710.7 1501.3L733.3 1478.7M600.7 1516.7L623.3 1539.3M600.7 1539.3L623.3 1516.7M622.7 1514.7L645.3 1537.3M622.7 1537.3L645.3 1514.7M678.7 1508.7L701.3 1531.3M678.7 1531.3L701.3 1508.7M690.7 1514.7L713.3 1537.3M690.7 1537.3L713.3 1514.7M702.7 1500.7L725.3 1523.3M702.7 1523.3L725.3 1500.7M666.7 1480.7L689.3 1503.3M666.7 1503.3L689.3 1480.7M676.7 1502.7L699.3 1525.3M676.7 1525.3L699.3 1502.7M626.7 1552.7L649.3 1575.3M626.7 1575.3L649.3 1552.7M644.7 1560.7L667.3 1583.3M644.7 1583.3L667.3 1560.7M658.7 1566.7L681.3 1589.3M658.7 1589.3L681.3 1566.7M634.7 1576.7L657.3 1599.3M634.7 1599.3L657.3 1576.7M538.7 1574.7L561.3 1597.3M538.7 1597.3L561.3 1574.7M582.7 1558.7L605.3 1581.3M582.7 1581.3L605.3 1558.7M592.7 1600.7L615.3 1623.3M592.7 1623.3L615.3 1600.7M610.7 1592.7L633.3 1615.3M610.7 1615.3L633.3 1592.7M616.7 1628.7L639.3 1651.3M616.7 1651.3L639.3 1628.7M604.7 1612.7L627.3 1635.3M604.7 1635.3L627.3 1612.7M290.7 1592.7L313.3 1615.3M290.7 1615.3L313.3 1592.7M292.7 1616.7L315.3 1639.3M292.7 1639.3L315.3 1616.7M290.7 1644.7L313.3 1667.3M290.7 1667.3L313.3 1644.7M266.7 1656.7L289.3 1679.3M266.7 1679.3L289.3 1656.7M272.7 1688.7L295.3 1711.3M272.7 1711.3L295.3 1688.7M284.7 1680.7L307.3 1703.3M284.7 1703.3L307.3 1680.7M358.7 1588.7L381.3 1611.3M358.7 1611.3L381.3 1588.7M358.7 1664.7L381.3 1687.3M358.7 1687.3L381.3 1664.7M370.7 1688.7L393.3 1711.3M370.7 1711.3L393.3 1688.7M378.7 1704.7L401.3 1727.3M378.7 1727.3L401.3 1704.7M366.7 1728.7L389.3 1751.3M366.7 1751.3L389.3 1728.7M390.7 1720.7L413.3 1743.3M390.7 1743.3L413.3 1720.7M336.7 1724.7L359.3 1747.3M336.7 1747.3L359.3 1724.7M414.7 1740.7L437.3 1763.3M414.7 1763.3L437.3 1740.7M410.7 1748.7L433.3 1771.3M410.7 1771.3L433.3 1748.7M422.7 1692.7L445.3 1715.3M422.7 1715.3L445.3 1692.7M418.7 1644.7L441.3 1667.3M418.7 1667.3L441.3 1644.7M426.7 1688.7L449.3 1711.3M426.7 1711.3L449.3 1688.7M444.7 1724.7L467.3 1747.3M444.7 1747.3L467.3 1724.7M444.7 1696.7L467.3 1719.3M444.7 1719.3L467.3 1696.7M482.7 1688.7L505.3 1711.3M482.7 1711.3L505.3 1688.7M478.7 1696.7L501.3 1719.3M478.7 1719.3L501.3 1696.7M490.7 1704.7L513.3 1727.3M490.7 1727.3L513.3 1704.7M494.7 1708.7L517.3 1731.3M494.7 1731.3L517.3 1708.7M506.7 1708.7L529.3 1731.3M506.7 1731.3L529.3 1708.7M514.7 1712.7L537.3 1735.3M514.7 1735.3L537.3 1712.7M522.7 1712.7L545.3 1735.3M522.7 1735.3L545.3 1712.7M526.7 1720.7L549.3 1743.3M526.7 1743.3L549.3 1720.7M530.7 1688.7L553.3 1711.3M530.7 1711.3L553.3 1688.7M534.7 1696.7L557.3 1719.3M534.7 1719.3L557.3 1696.7M538.7 1692.7L561.3 1715.3M538.7 1715.3L561.3 1692.7M226.7 1740.7L249.3 1763.3M226.7 1763.3L249.3 1740.7M234.7 1748.7L257.3 1771.3M234.7 1771.3L257.3 1748.7M242.7 1732.7L265.3 1755.3M242.7 1755.3L265.3 1732.7M250.7 1752.7L273.3 1775.3M250.7 1775.3L273.3 1752.7M258.7 1748.7L281.3 1771.3M258.7 1771.3L281.3 1748.7M266.7 1736.7L289.3 1759.3M266.7 1759.3L289.3 1736.7M222.7 1716.7L245.3 1739.3M222.7 1739.3L245.3 1716.7M738.7 1464.7L761.3 1487.3M738.7 1487.3L761.3 1464.7M722.7 1472.7L745.3 1495.3M722.7 1495.3L745.3 1472.7M746.7 1500.7L769.3 1523.3M746.7 1523.3L769.3 1500.7M774.7 1496.7L797.3 1519.3M774.7 1519.3L797.3 1496.7M758.7 1564.7L781.3 1587.3M758.7 1587.3L781.3 1564.7M790.7 1620.7L813.3 1643.3M790.7 1643.3L813.3 1620.7M794.7 1624.7L817.3 1647.3M794.7 1647.3L817.3 1624.7M810.7 1440.7L833.3 1463.3M810.7 1463.3L833.3 1440.7M802.7 1468.7L825.3 1491.3M802.7 1491.3L825.3 1468.7M834.7 1492.7L857.3 1515.3M834.7 1515.3L857.3 1492.7M822.7 1512.7L845.3 1535.3M822.7 1535.3L845.3 1512.7M866.7 1560.7L889.3 1583.3M866.7 1583.3L889.3 1560.7M874.7 1580.7L897.3 1603.3M874.7 1603.3L897.3 1580.7M854.7 1640.7L877.3 1663.3M854.7 1663.3L877.3 1640.7M850.7 1656.7L873.3 1679.3M850.7 1679.3L873.3 1656.7M862.7 1684.7L885.3 1707.3M862.7 1707.3L885.3 1684.7M874.7 1692.7L897.3 1715.3M874.7 1715.3L897.3 1692.7M886.7 1692.7L909.3 1715.3M886.7 1715.3L909.3 1692.7M912.7 1428.7L935.3 1451.3M912.7 1451.3L935.3 1428.7M930.7 1460.7L953.3 1483.3M930.7 1483.3L953.3 1460.7M922.7 1472.7L945.3 1495.3M922.7 1495.3L945.3 1472.7M910.7 1484.7L933.3 1507.3M910.7 1507.3L933.3 1484.7M890.7 1536.7L913.3 1559.3M890.7 1559.3L913.3 1536.7M902.7 1560.7L925.3 1583.3M902.7 1583.3L925.3 1560.7M930.7 1592.7L953.3 1615.3M930.7 1615.3L953.3 1592.7M938.7 1520.7L961.3 1543.3M938.7 1543.3L961.3 1520.7M950.7 1528.7L973.3 1551.3M950.7 1551.3L973.3 1528.7M962.7 1544.7L985.3 1567.3M962.7 1567.3L985.3 1544.7M974.7 1488.7L997.3 1511.3M974.7 1511.3L997.3 1488.7M946.7 1496.7L969.3 1519.3M946.7 1519.3L969.3 1496.7M966.7 1576.7L989.3 1599.3M966.7 1599.3L989.3 1576.7M970.7 1632.7L993.3 1655.3M970.7 1655.3L993.3 1632.7M966.7 1648.7L989.3 1671.3M966.7 1671.3L989.3 1648.7M990.7 1656.7L1013.3 1679.3M990.7 1679.3L1013.3 1656.7M998.7 1648.7L1021.3 1671.3M998.7 1671.3L1021.3 1648.7M998.7 1560.7L1021.3 1583.3M998.7 1583.3L1021.3 1560.7M1006.7 1428.7L1029.3 1451.3M1006.7 1451.3L1029.3 1428.7M1014.7 1480.7L1037.3 1503.3M1014.7 1503.3L1037.3 1480.7M1018.7 1496.7L1041.3 1519.3M1018.7 1519.3L1041.3 1496.7M1030.7 1528.7L1053.3 1551.3M1030.7 1551.3L1053.3 1528.7M1034.7 1544.7L1057.3 1567.3M1034.7 1567.3L1057.3 1544.7M1058.7 1488.7L1081.3 1511.3M1058.7 1511.3L1081.3 1488.7M1050.7 1588.7L1073.3 1611.3M1050.7 1611.3L1073.3 1588.7M1062.7 1580.7L1085.3 1603.3M1062.7 1603.3L1085.3 1580.7M1062.7 1620.7L1085.3 1643.3M1062.7 1643.3L1085.3 1620.7M1054.7 1640.7L1077.3 1663.3M1054.7 1663.3L1077.3 1640.7M1166.7 1716.7L1189.3 1739.3M1166.7 1739.3L1189.3 1716.7M1186.7 1432.7L1209.3 1455.3M1186.7 1455.3L1209.3 1432.7M1198.7 1444.7L1221.3 1467.3M1198.7 1467.3L1221.3 1444.7M1214.7 1468.7L1237.3 1491.3M1214.7 1491.3L1237.3 1468.7M1234.7 1468.7L1257.3 1491.3M1234.7 1491.3L1257.3 1468.7M1214.7 1480.7L1237.3 1503.3M1214.7 1503.3L1237.3 1480.7M1202.7 1488.7L1225.3 1511.3M1202.7 1511.3L1225.3 1488.7M1174.7 1528.7L1197.3 1551.3M1174.7 1551.3L1197.3 1528.7M1178.7 1540.7L1201.3 1563.3M1178.7 1563.3L1201.3 1540.7M1214.7 1576.7L1237.3 1599.3M1214.7 1599.3L1237.3 1576.7M1230.7 1572.7L1253.3 1595.3M1230.7 1595.3L1253.3 1572.7M1250.7 1528.7L1273.3 1551.3M1250.7 1551.3L1273.3 1528.7M1246.7 1648.7L1269.3 1671.3M1246.7 1671.3L1269.3 1648.7M1242.7 1656.7L1265.3 1679.3M1242.7 1679.3L1265.3 1656.7M1250.7 1688.7L1273.3 1711.3M1250.7 1711.3L1273.3 1688.7M1340.8 1414.8L1363.4 1437.4M1340.8 1437.4L1363.4 1414.8M1263.7 1501.1L1286.3 1523.7M1263.7 1523.7L1286.3 1501.1M1296.1 1506.1L1318.7 1528.7M1296.1 1528.7L1318.7 1506.1M1327.6 1507.2L1350.2 1529.8M1327.6 1529.8L1350.2 1507.2M1344.9 1550.8L1367.5 1573.4M1344.9 1573.4L1367.5 1550.8M1385.5 1568.1L1408.1 1590.7M1385.5 1590.7L1408.1 1568.1M1428.1 1567L1450.7 1589.6M1428.1 1589.6L1450.7 1567M1430.1 1524.4L1452.7 1547M1430.1 1547L1452.7 1524.4M1448.4 1496L1471 1518.6M1448.4 1518.6L1471 1496M1448.4 1514.3L1471 1536.9M1448.4 1536.9L1471 1514.3M1422 1599.5L1444.6 1622.1M1422 1622.1L1444.6 1599.5M1442.3 1636.1L1464.9 1658.7M1442.3 1658.7L1464.9 1636.1M1458.5 1611.7L1481.1 1634.3M1458.5 1634.3L1481.1 1611.7M1462.6 1571.1L1485.2 1593.7M1462.6 1593.7L1485.2 1571.1M1371.3 1603.6L1393.9 1626.2M1371.3 1626.2L1393.9 1603.6M1359.1 1621.9L1381.7 1644.5M1359.1 1644.5L1381.7 1621.9M1357 1634L1379.6 1656.6M1357 1656.6L1379.6 1634M1375.3 1638.1L1397.9 1660.7M1375.3 1660.7L1397.9 1638.1M1381.4 1666.5L1404 1689.1M1381.4 1689.1L1404 1666.5M1389.5 1686.8L1412.1 1709.4M1389.5 1709.4L1412.1 1686.8M1401.7 1678.7L1424.3 1701.3M1401.7 1701.3L1424.3 1678.7M1407.8 1670.6L1430.4 1693.2M1407.8 1693.2L1430.4 1670.6M1411.9 1676.7L1434.5 1699.3M1411.9 1699.3L1434.5 1676.7M1413.9 1662.5L1436.5 1685.1M1413.9 1685.1L1436.5 1662.5M1417.9 1648.2L1440.5 1670.8M1417.9 1670.8L1440.5 1648.2M1428.1 1636.1L1450.7 1658.7M1428.1 1658.7L1450.7 1636.1M1255.5 1684.8L1278.1 1707.4M1255.5 1707.4L1278.1 1684.8M1247.4 1652.3L1270 1674.9M1247.4 1674.9L1270 1652.3M1249.5 1662.5L1272.1 1685.1M1249.5 1685.1L1272.1 1662.5M1259.6 1619.8L1282.2 1642.4M1259.6 1642.4L1282.2 1619.8M1269.8 1589.4L1292.4 1612M1269.8 1612L1292.4 1589.4M1281.9 1601.6L1304.5 1624.2M1281.9 1624.2L1304.5 1601.6M1286 1650.3L1308.6 1672.9M1286 1672.9L1308.6 1650.3M1288 1627.9L1310.6 1650.5M1288 1650.5L1310.6 1627.9M1300.2 1575.2L1322.8 1597.8M1300.2 1597.8L1322.8 1575.2M1302.2 1621.9L1324.8 1644.5M1302.2 1644.5L1324.8 1621.9M1308.3 1636.1L1330.9 1658.7M1308.3 1658.7L1330.9 1636.1M1312.4 1652.3L1335 1674.9M1312.4 1674.9L1335 1652.3M1316.4 1648.2L1339 1670.8M1316.4 1670.8L1339 1648.2M1320.5 1646.2L1343.1 1668.8M1320.5 1668.8L1343.1 1646.2M1324.6 1648.2L1347.2 1670.8M1324.6 1670.8L1347.2 1648.2M1328.6 1650.3L1351.2 1672.9M1328.6 1672.9L1351.2 1650.3M1338.8 1711.2L1361.4 1733.8M1338.8 1733.8L1361.4 1711.2M1294.1 1546.7L1316.7 1569.3M1294.1 1569.3L1316.7 1546.7M1290.1 1554.9L1312.7 1577.5M1290.1 1577.5L1312.7 1554.9M1353 1621.9L1375.6 1644.5M1353 1644.5L1375.6 1621.9M347.7 1259.2L370.3 1281.8M347.7 1281.8L370.3 1259.2M553.9 1278.3L576.5 1300.9M553.9 1300.9L576.5 1278.3M668.1 1392.5L690.7 1415.1M668.1 1415.1L690.7 1392.5M778.9 1353.3L801.5 1375.9M778.9 1375.9L801.5 1353.3M1014.2 1302.3L1036.8 1324.9M1014.2 1324.9L1036.8 1302.3M1193.6 1321.5L1216.2 1344.1M1193.6 1344.1L1216.2 1321.5M899.2 1402.7L921.8 1425.3M899.2 1425.3L921.8 1402.7" stroke="#f020e6" stroke-width="1.7" fill="none"/>
<polyline points="198,1688 202,1704 206,1716 210,1732 214,1740 218,1744 222,1742 226,1746 230,1746 234,1748 238,1746 242,1748 246,1750 250,1748 254,1750 258,1752 262,1750 266,1752 270,1750 274,1752 278,1752 280,1748 282,1700 283.2,1644 284.8,1652 286.8,1676 289.2,1688 292,1692 296,1696 300,1700 304,1692 308,1696 310,1696 314,1712 318,1720 322,1728 326,1732 330,1736 334,1740 336,1744 338,1724 340,1700 342,1684 344,1680 346,1676 348,1684 350,1700 352,1692 354,1644 356,1588 358,1564 360,1548 362,1552 364,1572 366,1592 368,1608 370,1624 372,1636 374,1648 376,1660 378,1668 380,1676 382,1684 386,1696 390,1708 394,1716 398,1720 402,1724 406,1728 410,1728 414,1730 418,1728 422,1732 426,1730 430,1728 434,1724 438,1724 442,1720 446,1714 450,1714 454,1718 458,1720 462,1724 466,1726 470,1728 474,1728 476,1728 478,1660 480,1608 482,1612 484,1644 486,1664 488,1676 490,1680 494,1688 498,1692 502,1696 504,1680 506,1676 508,1684 510,1692 514,1700 518,1704 522,1708 526,1712 530,1712 534,1714 538,1716 542,1716 546,1718 550,1716 552,1712 554,1660 556,1592 558,1544 560,1540 562,1552 564,1512 566,1500 568,1516 570,1536 572,1544 574,1556 576,1568 578,1576 580,1580 582,1588 586,1596 590,1600 594,1604 598,1608 602,1616 606,1620 610,1624 614,1628 618,1632 622,1636 626,1638 630,1640 634,1628 638,1612 640,1608 642,1616 646,1628 650,1636 654,1632 658,1624 662,1616 666,1604 670,1588 674,1572 676,1552 678,1524 680,1520 682,1532 686,1548 690,1560 694,1552 698,1560 702,1568 706,1580 710,1576 714,1556 718,1540 722,1536 726,1548 730,1556 734,1564" fill="none" stroke="#ff0000" stroke-width="3" stroke-linejoin="round" stroke-linecap="square"/>
<polyline points="734,1592 738,1612 742,1624 744,1628 746,1588 748,1552 750,1532 752,1524 754,1552 756,1560 758,1556 762,1556 766,1556 768,1548 770,1540 772,1552 774,1564 778,1576 782,1592 786,1608 790,1612 794,1616 798,1620 802,1624 806,1628 808,1548 810,1508 812,1512 814,1528 816,1536 818,1524 820,1532 822,1500 824,1516 826,1520 828,1512 830,1532 832,1528 834,1508 836,1496 838,1500 840,1520 842,1544 844,1556 846,1568 850,1580 854,1592 858,1604 862,1616 866,1628 870,1640 874,1648 878,1656 882,1660 886,1664 888,1660 890,1656 892,1648 894,1652 896,1660 898,1668 900,1676 902,1668 904,1628 906,1560 908,1500 910,1468 912,1456 914,1460 916,1480 918,1500 920,1516 922,1536 924,1552 926,1560 930,1568 934,1580 938,1600 942,1616 946,1636 948,1624 950,1564 952,1528 954,1544 956,1556 958,1572 962,1588 966,1604 970,1624 974,1640 978,1656 982,1664 984,1644 986,1592 988,1552 990,1548 994,1576 998,1596 1002,1620 1006,1644 1010,1660 1012,1664 1014,1652 1016,1620 1018,1588 1020,1552 1022,1528 1024,1524 1026,1528 1030,1540 1032,1552 1034,1540 1036,1548 1038,1564 1040,1588 1042,1616 1044,1608 1046,1572 1048,1532 1050,1552 1052,1572 1054,1592 1056,1612 1058,1628 1060,1644 1062,1652 1066,1664 1069.2,1676 1072,1644 1074,1624 1076,1628 1078,1636 1082,1652 1086,1660 1090,1664 1094,1672 1098,1680 1102,1684 1106,1692 1110,1696 1114,1700 1118,1704 1122,1708 1124,1692 1126,1660 1128,1620 1130,1588 1132,1560 1134,1532 1136,1520 1138,1516 1140,1520 1142,1540 1144,1564 1146,1588 1148,1612 1150,1640 1152,1668 1154,1692 1156,1700" fill="none" stroke="#ff0000" stroke-width="3" stroke-linejoin="round" stroke-linecap="square"/>
<polyline points="1158,1708 1162,1712 1166,1716 1170,1720 1174,1722 1178,1724 1180,1720 1182,1700 1184,1660 1186,1612 1188,1564 1190,1520 1192,1492 1194,1460 1196,1468 1198,1488 1200,1512 1202,1540 1204,1560 1206,1552 1208,1532 1210,1516 1212,1540 1214,1560 1216,1588 1218,1548 1220,1520 1222,1508 1224,1536 1226,1516 1228,1504 1230,1508 1232,1540 1234,1560 1236,1588 1238,1580 1240,1600 1242,1620 1246,1640 1250,1652 1254,1660 1258,1668 1262,1676 1266,1680 1270,1684" fill="none" stroke="#ff0000" stroke-width="3" stroke-linejoin="round" stroke-linecap="square"/>
<polyline points="1270.1,1683.9 1270.9,1663.6 1272.9,1612.9 1275,1580.4 1277,1572.3 1279,1582.4 1281.1,1594.6 1283.1,1598.6 1285.1,1602.7 1287.1,1612.9 1289.2,1623 1291.2,1635.2 1293.2,1643.3 1295.3,1653.5 1297.3,1663.6 1299.3,1669.7 1301.4,1653.5 1303.4,1643.3 1305.4,1641.3 1307.4,1635.2 1309.5,1602.7 1311.5,1610.8 1313.5,1618.9 1315.6,1633.2 1317.6,1647.4 1319.6,1657.5 1321.7,1671.7 1323.7,1663.6 1325.7,1655.5 1327.7,1663.6 1329.8,1657.5 1331.8,1661.6 1333.8,1663.6 1336.9,1667.7" fill="none" stroke="#ff0000" stroke-width="3" stroke-linejoin="round" stroke-linecap="square"/>
<polyline points="1386.6,1663.6 1388.6,1663.6 1392.7,1667.7 1394.7,1669.7 1396.8,1673.8 1398.8,1671.7 1400.8,1669.7 1402.9,1667.7 1404.9,1673.8 1406.9,1667.7 1408.9,1671.7 1411,1679.8 1413,1685.9 1415,1688 1417.1,1688 1419.1,1690 1421.1,1690 1423.2,1690 1425.2,1692 1427.2,1685.9 1429.2,1663.6 1431.3,1649.4 1433.3,1653.5 1435.3,1657.5 1437.4,1663.6 1439.4,1667.7 1441.4,1671.7 1443.5,1673.8 1445.5,1675.8 1447.5,1677.8 1449.5,1679.8 1451.6,1681.9 1453.6,1681.9 1455.6,1623 1457.7,1562.1 1459.7,1545.9 1461.7,1562.1 1463.8,1582.4 1465.8,1596.6 1467.8,1602.7 1469.8,1604.7 1471.9,1606.8 1473.9,1608.8 1475.9,1612.9 1478,1616.9 1481,1618.9" fill="none" stroke="#ff0000" stroke-width="3" stroke-linejoin="round" stroke-linecap="square"/>
<polyline points="198,1668 201.2,1684 204,1704 206.8,1712 210,1716 214,1712 218,1716 222,1708 225.2,1718 228,1704 230.8,1712 234,1716 238,1708 241.2,1718 244,1714 248,1708 249.2,1706" fill="none" stroke="#0000ff" stroke-width="3.4" stroke-linejoin="round" stroke-linecap="square"/>
<polyline points="266,1722 270,1716 274,1712 278,1714 280,1712 282,1668 284,1592 286,1644 288,1692 290,1700 292,1692 294,1700 296,1660 298,1696 300,1652 302,1700 304,1704 306,1676 308,1700 310,1700 314,1704 318,1702 322,1700 324,1624 326,1644 328,1700 330,1696 332,1704 334,1708 336,1700 338,1660 340,1628 342,1624 344,1692 346,1700 348,1696 350,1700 352,1700 354,1652 356,1608 358,1604 360,1612 362,1632 364,1644 366,1660 368,1684 370,1672 372,1676 374,1664 376,1676 378,1684 380,1680 382,1676 384,1684 386,1680 388,1676 390,1668 392,1680 394,1692 396,1676 398,1688 400,1680 402,1676 404,1684 406,1668 408,1680 410,1676 412,1664 414,1680 416,1668 418,1684 420,1680 422,1684 426,1680 430,1676 434,1660 436,1624 438,1652 440,1676 442,1660 444,1676 446,1668 448,1684 450,1680 454,1684 458,1680 460,1684 462,1676 464,1696 466,1680 470,1668 472,1680 474,1684 476,1644 478,1632 480,1624 482,1628 484,1644 486,1660 488,1668 490,1672 494,1676 498,1672 502,1668 504,1664 506,1668 510,1664 514,1668 516,1676 518,1668 520,1676 522,1672 526,1676 528,1670 530,1676 534,1670 536,1676 538,1672 542,1680 546,1676 548,1680 550,1660 552,1608 554,1552 556,1580 558,1588 560,1564 562,1592 564,1580 566,1516 568,1504 570,1532 572,1592 574,1604 576,1596 578,1616 580,1608 582,1632 584,1616 586,1620 588,1608 590,1628 592,1612 594,1624 596,1616 598,1632 600,1624 602,1636 604,1628 606,1636 608,1628 610,1632 612,1636 614,1624 616,1632 618,1628 620,1636 622,1628 624,1636 626,1620 628,1632 630,1636 632,1616 634,1608 636,1592 638,1572 640,1620 642,1604 644,1620 646,1624 648,1608 650,1620 652,1596 654,1628 656,1612 658,1620 660,1604 662,1620 664,1596 666,1624 668,1636 670,1600 672,1592 674,1588 676,1604 678,1612" fill="none" stroke="#0000ff" stroke-width="3.4" stroke-linejoin="round" stroke-linecap="square"/>
<polyline points="686,1576 688,1588 690,1596 694,1592 698,1604 702,1600 706,1608 710,1604 714,1620 716,1576 718,1580 722,1588 726,1596 730,1608 734,1616" fill="none" stroke="#0000ff" stroke-width="3.4" stroke-linejoin="round" stroke-linecap="square"/>
<polyline points="734,1616 738,1620 742,1624 744,1612 746,1580 748,1556 750,1540 752,1548 754,1580 756,1596 758,1592 762,1596 766,1592 770,1600 774,1596 778,1604 782,1612 784,1604 786,1596 788,1580 790,1588 792,1612 794,1620 796,1608 798,1616 800,1612 802,1620 804,1608 806,1588 808,1552 810,1572 812,1580 814,1572 816,1564 818,1580 820,1596 822,1580 824,1556 826,1576 828,1584 830,1588 832,1572 834,1592 836,1552 838,1572 840,1588 842,1600 844,1604 846,1596 850,1600 852,1604 854,1596 858,1588 860,1604 862,1596 864,1612 866,1600 868,1604 870,1596 872,1608 874,1600 876,1596 878,1604 880,1592 882,1600 884,1608 886,1620 888,1588 890,1580 892,1576 894,1588 896,1596 898,1592 900,1604 902,1612 904,1620 906,1540 908,1512 910,1552 912,1580 914,1572 916,1564 918,1580 920,1540 922,1560 924,1572 926,1564 928,1576 930,1596 932,1572 934,1580 936,1572 938,1576 940,1588 942,1580 944,1588 946,1560 948,1500 949.2,1452 950.8,1484 952,1520 954,1552 956,1556 958,1560 960,1580 962,1584 964,1588 966,1580 968,1576 970,1588 972,1572 974,1592 976,1604 978,1596 980,1608 982,1580 984,1540 986,1508 988,1540 990,1580 992,1572 994,1592 996,1596 998,1588 1000,1608 1002,1588 1004,1604 1006,1612 1008,1620 1010,1632 1012,1620 1014,1592 1016,1576 1018,1556 1020,1516 1022,1524 1024,1536 1026,1524 1028,1532 1030,1540 1032,1552 1034,1572 1036,1580 1038,1588 1040,1576 1042,1572 1044,1494 1046,1532 1048,1540 1050,1580 1052,1596 1054,1604 1056,1612 1058,1616 1060,1620 1062,1616 1064,1620 1066,1612 1068,1624 1070,1616 1072,1612 1074,1600 1076,1620 1078,1628 1080,1620 1082,1624 1084,1616 1086,1636 1088,1644 1090,1636 1092,1652 1094,1644 1096,1648 1098,1640 1100,1644 1102,1652 1104,1644 1106,1648 1108,1652 1110,1656 1112,1660 1114,1664 1116,1656 1118,1660 1120,1664 1122,1656 1124,1644 1126,1624 1128,1608 1130,1588 1132,1576 1134,1572 1136,1564 1138,1556 1140,1552 1142,1580 1144,1620" fill="none" stroke="#0000ff" stroke-width="3.4" stroke-linejoin="round" stroke-linecap="square"/>
<polyline points="1150,1644 1152,1656 1154,1636 1156,1644 1158,1648 1162,1644 1166,1648 1170,1656 1174,1656 1178,1668 1180,1660 1182,1648 1184,1632 1186,1600 1188,1556 1190,1548 1192,1544 1194,1560 1196,1572 1198,1580 1200,1588 1202,1580 1204,1592 1206,1596 1208,1616 1210,1560 1212,1580 1214,1592 1216,1604 1218,1616 1220,1624 1222,1588 1224,1612 1226,1592 1228,1604 1230,1624 1232,1596 1234,1620 1236,1612 1238,1604 1240,1620 1242,1608 1244,1624 1246,1636 1248,1628 1250,1620 1254,1624 1258,1620 1262,1628 1266,1616 1270,1612" fill="none" stroke="#0000ff" stroke-width="3.4" stroke-linejoin="round" stroke-linecap="square"/>
<polyline points="1270.1,1637.2 1271.9,1562.1 1272.9,1533.7 1274.6,1537.7 1276,1562.1 1277,1586.5 1279,1596.6 1281.1,1582.4 1283.1,1574.3 1285.1,1582.4 1287.1,1602.7 1289.2,1614.9 1291.2,1635.2 1293.2,1623 1295.3,1618.9 1297.3,1608.8 1299.3,1566.2 1301.4,1513.4 1303.4,1562.1 1305.4,1598.6 1307.4,1586.5 1308.5,1560.1 1309.5,1570.2 1310.5,1594.6 1311.5,1602.7 1313.5,1608.8 1315.6,1612.9 1317.6,1616.9 1319.6,1618.9 1321.7,1621 1323.7,1625 1325.7,1629.1 1327.7,1631.1 1329.8,1633.2 1331.8,1635.2 1333.8,1633.2 1335.9,1637.2 1337.9,1631.1 1339.9,1625 1342,1635.2 1344,1627.1 1346,1618.9 1348,1639.2 1350.1,1643.3 1352.1,1649.4 1354.1,1602.7 1356.2,1576.3 1358.2,1594.6 1360.2,1600.7 1362.3,1602.7 1364.3,1604.7 1366.3,1612.9 1368.3,1618.9 1370.4,1623 1372.4,1635.2 1374.4,1627.1 1376.5,1614.9 1378.5,1598.6 1380.5,1623 1382.6,1618.9 1384.6,1629.1 1386.6,1625 1388.6,1631.1 1390.7,1633.2 1392.7,1635.2 1394.7,1631.1 1396.8,1629.1 1398.8,1614.9 1400.8,1633.2 1402.9,1635.2 1404.9,1635.2 1406.9,1637.2 1408.9,1639.2 1411,1635.2 1413,1631.1 1415,1637.2 1417.1,1639.2 1419.1,1641.3 1421.1,1643.3 1423.2,1641.3 1425.2,1635.2 1427.2,1631.1 1429.2,1614.9 1431.3,1596.6 1433.3,1602.7 1435.3,1623 1437.4,1627.1 1439.4,1635.2 1441.4,1635.2 1443.5,1633.2 1445.5,1633.2 1447.5,1635.2 1449.5,1637.2 1451.6,1639.2 1453.6,1635.2 1455.6,1602.7 1457.7,1562.1 1458.7,1533.7 1459.7,1552 1461.7,1582.4 1463.8,1602.7 1465.8,1610.8 1467.8,1612.9 1469.8,1614.9 1471.9,1614.9 1473.9,1614.9 1475.9,1616.9 1478,1618.9 1481,1621" fill="none" stroke="#0000ff" stroke-width="3.4" stroke-linejoin="round" stroke-linecap="square"/>
</g>
<path d="M198.0 1777.00h14.5M1479.0 1777.00h-14.5M198.0 1686.88h14.5M1479.0 1686.88h-14.5M198.0 1596.75h14.5M1479.0 1596.75h-14.5M198.0 1506.62h14.5M1479.0 1506.62h-14.5M198.0 1416.50h14.5M1479.0 1416.50h-14.5M198.0 1326.38h14.5M1479.0 1326.38h-14.5M198.0 1236.25h14.5M1479.0 1236.25h-14.5M198.0 1146.12h14.5M1479.0 1146.12h-14.5M198.0 1056.00h14.5M1479.0 1056.00h-14.5M274.20 1056.0v14.5M274.20 1777.0v-14.5M420.86 1056.0v14.5M420.86 1777.0v-14.5M572.50 1056.0v14.5M572.50 1777.0v-14.5M724.13 1056.0v14.5M724.13 1777.0v-14.5M875.76 1056.0v14.5M875.76 1777.0v-14.5M1027.40 1056.0v14.5M1027.40 1777.0v-14.5M1181.52 1056.0v14.5M1181.52 1777.0v-14.5M1328.18 1056.0v14.5M1328.18 1777.0v-14.5" stroke="#000" stroke-width="1.8" fill="none"/>
<rect x="198.0" y="1056.0" width="1281.0" height="721.0" fill="none" stroke="#000" stroke-width="3.0"/>
<rect x="313.2" y="1075.2" width="1145.3999999999999" height="68.59999999999991" rx="6.5" ry="6.5" fill="#fff" stroke="#000" stroke-width="3.1"/>
<line x1="338.5" y1="1106.8" x2="395.8" y2="1106.8" stroke="#0000ff" stroke-width="3"/>
<circle cx="596" cy="1107.1" r="6.8" fill="#008000"/><circle cx="650.3" cy="1107.1" r="6.8" fill="#008000"/>
<path d="M905.0 1096.2l22.6 22.6m0 -22.6l-22.6 22.6M958.9000000000001 1096.2l22.6 22.6m0 -22.6l-22.6 22.6" stroke="#f020e6" stroke-width="1.7" fill="none"/>
<line x1="1235.3" y1="1106.8" x2="1292" y2="1106.8" stroke="#ff0000" stroke-width="3"/>
<text class="t" x="434.0" y="1120.0" font-size="38.3">ECV</text>
<text class="t" x="690.5" y="1120.0" font-size="38.3">SMOSA</text>
<text class="t" x="1010.5" y="1120.0" font-size="38.3">SMOSD</text>
<text class="t" x="1328.9" y="1120.0" font-size="38.3">In-situ</text>
<text class="t" transform="translate(184.2 1789.40) scale(1.055 1)" font-size="43.5" text-anchor="end">0.0</text>
<text class="t" transform="translate(184.2 1699.28) scale(1.055 1)" font-size="43.5" text-anchor="end">0.1</text>
<text class="t" transform="translate(184.2 1609.15) scale(1.055 1)" font-size="43.5" text-anchor="end">0.2</text>
<text class="t" transform="translate(184.2 1519.03) scale(1.055 1)" font-size="43.5" text-anchor="end">0.3</text>
<text class="t" transform="translate(184.2 1428.90) scale(1.055 1)" font-size="43.5" text-anchor="end">0.4</text>
<text class="t" transform="translate(184.2 1338.78) scale(1.055 1)" font-size="43.5" text-anchor="end">0.5</text>
<text class="t" transform="translate(184.2 1248.65) scale(1.055 1)" font-size="43.5" text-anchor="end">0.6</text>
<text class="t" transform="translate(184.2 1158.53) scale(1.055 1)" font-size="43.5" text-anchor="end">0.7</text>
<text class="t" transform="translate(184.2 1068.40) scale(1.055 1)" font-size="43.5" text-anchor="end">0.8</text>
<text class="t" x="272.90" y="1821.60" font-size="46" text-anchor="end" transform="rotate(-30 272.90 1821.60)">Feb 2010</text>
<text class="t" x="419.56" y="1821.60" font-size="46" text-anchor="end" transform="rotate(-30 419.56 1821.60)">Apr 2010</text>
<text class="t" x="571.20" y="1821.60" font-size="46" text-anchor="end" transform="rotate(-30 571.20 1821.60)">Jun 2010</text>
<text class="t" x="722.83" y="1821.60" font-size="46" text-anchor="end" transform="rotate(-30 722.83 1821.60)">Aug 2010</text>
<text class="t" x="874.46" y="1821.60" font-size="46" text-anchor="end" transform="rotate(-30 874.46 1821.60)">Oct 2010</text>
<text class="t" x="1026.10" y="1821.60" font-size="46" text-anchor="end" transform="rotate(-30 1026.10 1821.60)">Dec 2010</text>
<text class="t" x="1180.22" y="1821.60" font-size="46" text-anchor="end" transform="rotate(-30 1180.22 1821.60)">Feb 2011</text>
<text class="t" x="1326.88" y="1821.60" font-size="46" text-anchor="end" transform="rotate(-30 1326.88 1821.60)">Apr 2011</text>
<text class="mono" x="839.7" y="1037.5" font-size="76.5" text-anchor="middle">Yanco</text>
<g transform="translate(81.5 1724.50) rotate(-90)">
<text class="t" x="-3.8" y="0" font-size="57">Soil Mositure</text>
<text class="t" x="380" y="0" font-size="57">[</text>
<text class="mi" transform="translate(398 1.2) scale(1.252 1)" x="0" y="0" font-size="59">m</text>
<text class="mi" transform="translate(488.2 1.2) scale(1.252 1)" x="0" y="0" font-size="59">m</text>
<text x="451" y="-22.2" font-size="41.4" class="sr">3</text>
<text transform="translate(540.5 -20.4) scale(1.35 1)" x="0" y="0" font-size="41.4" class="sr">&#8722;</text>
<text x="570.8" y="-22.2" font-size="41.4" class="sr">3</text>
<text class="t" x="602" y="0" font-size="57">]</text>
</g>
<clipPath id="c2"><rect x="198.0" y="2007.5" width="1281.0" height="721.0"/></clipPath>
<g clip-path="url(#c2)">
<g fill="#008000"><circle cx="306" cy="2360" r="7.0"/><circle cx="302" cy="2476" r="7.0"/><circle cx="282" cy="2526" r="7.0"/><circle cx="286.8" cy="2546" r="7.0"/><circle cx="300" cy="2574" r="7.0"/><circle cx="294" cy="2650" r="7.0"/><circle cx="254" cy="2696" r="7.0"/><circle cx="238" cy="2718" r="7.0"/><circle cx="262" cy="2714" r="7.0"/><circle cx="356" cy="2492" r="7.0"/><circle cx="378" cy="2576" r="7.0"/><circle cx="376" cy="2598" r="7.0"/><circle cx="382" cy="2618" r="7.0"/><circle cx="394" cy="2646" r="7.0"/><circle cx="406" cy="2656" r="7.0"/><circle cx="422" cy="2650" r="7.0"/><circle cx="404" cy="2678" r="7.0"/><circle cx="428" cy="2682" r="7.0"/><circle cx="436" cy="2556" r="7.0"/><circle cx="440" cy="2616" r="7.0"/><circle cx="448" cy="2634" r="7.0"/><circle cx="454" cy="2642" r="7.0"/><circle cx="492" cy="2592" r="7.0"/><circle cx="518" cy="2606" r="7.0"/><circle cx="524" cy="2626" r="7.0"/><circle cx="530" cy="2634" r="7.0"/><circle cx="538" cy="2602" r="7.0"/><circle cx="546" cy="2646" r="7.0"/><circle cx="552" cy="2650" r="7.0"/><circle cx="562" cy="2416" r="7.0"/><circle cx="568" cy="2472" r="7.0"/><circle cx="554" cy="2526" r="7.0"/><circle cx="570" cy="2526" r="7.0"/><circle cx="574" cy="2548" r="7.0"/><circle cx="582" cy="2562" r="7.0"/><circle cx="592" cy="2570" r="7.0"/><circle cx="594" cy="2574" r="7.0"/><circle cx="600" cy="2586" r="7.0"/><circle cx="584" cy="2594" r="7.0"/><circle cx="606" cy="2606" r="7.0"/><circle cx="614" cy="2514" r="7.0"/><circle cx="626" cy="2530" r="7.0"/><circle cx="638" cy="2532" r="7.0"/><circle cx="646" cy="2534" r="7.0"/><circle cx="622" cy="2466" r="7.0"/><circle cx="632" cy="2422" r="7.0"/><circle cx="658" cy="2418" r="7.0"/><circle cx="670" cy="2394" r="7.0"/><circle cx="676" cy="2372" r="7.0"/><circle cx="682" cy="2448" r="7.0"/><circle cx="670" cy="2510" r="7.0"/><circle cx="682" cy="2494" r="7.0"/><circle cx="696" cy="2494" r="7.0"/><circle cx="704" cy="2516" r="7.0"/><circle cx="726" cy="2372" r="7.0"/><circle cx="718" cy="2482" r="7.0"/><circle cx="730" cy="2498" r="7.0"/><circle cx="278" cy="2650" r="7.0"/><circle cx="242" cy="2722" r="7.0"/><circle cx="270" cy="2724" r="7.0"/><circle cx="906" cy="2358" r="7.0"/><circle cx="982" cy="2360" r="7.0"/><circle cx="814" cy="2358" r="7.0"/><circle cx="822" cy="2350" r="7.0"/><circle cx="806" cy="2378" r="7.0"/><circle cx="746" cy="2410" r="7.0"/><circle cx="774" cy="2416" r="7.0"/><circle cx="770" cy="2418" r="7.0"/><circle cx="748" cy="2432" r="7.0"/><circle cx="818" cy="2434" r="7.0"/><circle cx="830" cy="2430" r="7.0"/><circle cx="848" cy="2420" r="7.0"/><circle cx="800" cy="2446" r="7.0"/><circle cx="838" cy="2454" r="7.0"/><circle cx="754" cy="2454" r="7.0"/><circle cx="774" cy="2458" r="7.0"/><circle cx="786" cy="2468" r="7.0"/><circle cx="738" cy="2510" r="7.0"/><circle cx="792" cy="2494" r="7.0"/><circle cx="862" cy="2478" r="7.0"/><circle cx="888" cy="2516" r="7.0"/><circle cx="874" cy="2548" r="7.0"/><circle cx="874" cy="2582" r="7.0"/><circle cx="882" cy="2576" r="7.0"/><circle cx="902" cy="2592" r="7.0"/><circle cx="918" cy="2420" r="7.0"/><circle cx="920" cy="2450" r="7.0"/><circle cx="926" cy="2532" r="7.0"/><circle cx="934" cy="2530" r="7.0"/><circle cx="942" cy="2546" r="7.0"/><circle cx="952" cy="2420" r="7.0"/><circle cx="954" cy="2502" r="7.0"/><circle cx="964" cy="2526" r="7.0"/><circle cx="962" cy="2564" r="7.0"/><circle cx="970" cy="2594" r="7.0"/><circle cx="978" cy="2570" r="7.0"/><circle cx="986" cy="2450" r="7.0"/><circle cx="996" cy="2474" r="7.0"/><circle cx="1002" cy="2546" r="7.0"/><circle cx="1006" cy="2602" r="7.0"/><circle cx="1016" cy="2638" r="7.0"/><circle cx="1022" cy="2522" r="7.0"/><circle cx="1030" cy="2446" r="7.0"/><circle cx="1038" cy="2438" r="7.0"/><circle cx="1054" cy="2534" r="7.0"/><circle cx="1068" cy="2566" r="7.0"/><circle cx="1226" cy="2402" r="7.0"/><circle cx="1232" cy="2428" r="7.0"/><circle cx="1190" cy="2438" r="7.0"/><circle cx="1206" cy="2436" r="7.0"/><circle cx="1194" cy="2458" r="7.0"/><circle cx="1182" cy="2498" r="7.0"/><circle cx="1234" cy="2482" r="7.0"/><circle cx="1238" cy="2530" r="7.0"/><circle cx="1242" cy="2566" r="7.0"/><circle cx="1246" cy="2586" r="7.0"/><circle cx="1254" cy="2594" r="7.0"/><circle cx="1262" cy="2582" r="7.0"/><circle cx="1270" cy="2378" r="7.0"/><circle cx="1262" cy="2562" r="7.0"/><circle cx="1271.9" cy="2378.7" r="7.0"/><circle cx="1309.5" cy="2451.8" r="7.0"/><circle cx="1277" cy="2451.8" r="7.0"/><circle cx="1283.1" cy="2492.4" r="7.0"/><circle cx="1348" cy="2497.5" r="7.0"/><circle cx="1291.2" cy="2553.3" r="7.0"/><circle cx="1295.3" cy="2571.6" r="7.0"/><circle cx="1329.8" cy="2561.4" r="7.0"/><circle cx="1333.8" cy="2608.1" r="7.0"/><circle cx="1342" cy="2600" r="7.0"/><circle cx="1360.2" cy="2535" r="7.0"/><circle cx="1362.3" cy="2541.1" r="7.0"/><circle cx="1368.3" cy="2636.5" r="7.0"/><circle cx="1378.5" cy="2608.1" r="7.0"/><circle cx="1386.6" cy="2616.2" r="7.0"/><circle cx="1398.8" cy="2569.5" r="7.0"/><circle cx="1404.9" cy="2573.6" r="7.0"/><circle cx="1413" cy="2602" r="7.0"/><circle cx="1423.2" cy="2589.8" r="7.0"/><circle cx="1433.3" cy="2561.4" r="7.0"/><circle cx="1443.5" cy="2591.9" r="7.0"/><circle cx="1447.5" cy="2604.1" r="7.0"/><circle cx="1455.6" cy="2488.3" r="7.0"/><circle cx="1461.7" cy="2533" r="7.0"/><circle cx="1465.8" cy="2553.3" r="7.0"/><circle cx="1469.8" cy="2573.6" r="7.0"/><circle cx="1380.5" cy="2583.8" r="7.0"/><circle cx="1372.4" cy="2577.7" r="7.0"/><circle cx="1392.7" cy="2608.1" r="7.0"/><circle cx="1417.1" cy="2593.9" r="7.0"/><circle cx="1433.3" cy="2600" r="7.0"/><circle cx="1439.4" cy="2600" r="7.0"/><circle cx="765.3" cy="2320.4" r="7.0"/><circle cx="908.3" cy="2311.6" r="7.0"/></g>
<path d="M292.7 2344.7L315.3 2367.3M292.7 2367.3L315.3 2344.7M272.7 2434.7L295.3 2457.3M272.7 2457.3L295.3 2434.7M260.7 2480.7L283.3 2503.3M260.7 2503.3L283.3 2480.7M438.7 2454.7L461.3 2477.3M438.7 2477.3L461.3 2454.7M496.7 2468.7L519.3 2491.3M496.7 2491.3L519.3 2468.7M586.7 2338.7L609.3 2361.3M586.7 2361.3L609.3 2338.7M630.7 2326.7L653.3 2349.3M630.7 2349.3L653.3 2326.7M672.7 2318.7L695.3 2341.3M672.7 2341.3L695.3 2318.7M606.7 2414.7L629.3 2437.3M606.7 2437.3L629.3 2414.7M616.7 2398.7L639.3 2421.3M616.7 2421.3L639.3 2398.7M662.7 2370.7L685.3 2393.3M662.7 2393.3L685.3 2370.7M682.7 2438.7L705.3 2461.3M682.7 2461.3L705.3 2438.7M694.7 2438.7L717.3 2461.3M694.7 2461.3L717.3 2438.7M706.7 2446.7L729.3 2469.3M706.7 2469.3L729.3 2446.7M714.7 2402.7L737.3 2425.3M714.7 2425.3L737.3 2402.7M670.7 2478.7L693.3 2501.3M670.7 2501.3L693.3 2478.7M646.7 2498.7L669.3 2521.3M646.7 2521.3L669.3 2498.7M702.7 2482.7L725.3 2505.3M702.7 2505.3L725.3 2482.7M552.7 2410.7L575.3 2433.3M552.7 2433.3L575.3 2410.7M558.7 2486.7L581.3 2509.3M558.7 2509.3L581.3 2486.7M570.7 2490.7L593.3 2513.3M570.7 2513.3L593.3 2490.7M586.7 2510.7L609.3 2533.3M586.7 2533.3L609.3 2510.7M590.7 2518.7L613.3 2541.3M590.7 2541.3L613.3 2518.7M598.7 2534.7L621.3 2557.3M598.7 2557.3L621.3 2534.7M590.7 2562.7L613.3 2585.3M590.7 2585.3L613.3 2562.7M578.7 2550.7L601.3 2573.3M578.7 2573.3L601.3 2550.7M354.7 2484.7L377.3 2507.3M354.7 2507.3L377.3 2484.7M362.7 2518.7L385.3 2541.3M362.7 2541.3L385.3 2518.7M366.7 2594.7L389.3 2617.3M366.7 2617.3L389.3 2594.7M374.7 2622.7L397.3 2645.3M374.7 2645.3L397.3 2622.7M386.7 2638.7L409.3 2661.3M386.7 2661.3L409.3 2638.7M410.7 2646.7L433.3 2669.3M410.7 2669.3L433.3 2646.7M418.7 2666.7L441.3 2689.3M418.7 2689.3L441.3 2666.7M390.7 2678.7L413.3 2701.3M390.7 2701.3L413.3 2678.7M444.7 2690.7L467.3 2713.3M444.7 2713.3L467.3 2690.7M430.7 2582.7L453.3 2605.3M430.7 2605.3L453.3 2582.7M474.7 2606.7L497.3 2629.3M474.7 2629.3L497.3 2606.7M494.7 2530.7L517.3 2553.3M494.7 2553.3L517.3 2530.7M482.7 2610.7L505.3 2633.3M482.7 2633.3L505.3 2610.7M488.7 2630.7L511.3 2653.3M488.7 2653.3L511.3 2630.7M514.7 2642.7L537.3 2665.3M514.7 2665.3L537.3 2642.7M522.7 2638.7L545.3 2661.3M522.7 2661.3L545.3 2638.7M534.7 2642.7L557.3 2665.3M534.7 2665.3L557.3 2642.7M538.7 2646.7L561.3 2669.3M538.7 2669.3L561.3 2646.7M530.7 2542.7L553.3 2565.3M530.7 2565.3L553.3 2542.7M278.7 2578.7L301.3 2601.3M278.7 2601.3L301.3 2578.7M282.7 2518.7L305.3 2541.3M282.7 2541.3L305.3 2518.7M286.7 2534.7L309.3 2557.3M286.7 2557.3L309.3 2534.7M222.7 2694.7L245.3 2717.3M222.7 2717.3L245.3 2694.7M234.7 2698.7L257.3 2721.3M234.7 2721.3L257.3 2698.7M246.7 2690.7L269.3 2713.3M246.7 2713.3L269.3 2690.7M250.7 2704.7L273.3 2727.3M250.7 2727.3L273.3 2704.7M262.7 2704.7L285.3 2727.3M262.7 2727.3L285.3 2704.7M334.7 2710.7L357.3 2733.3M334.7 2733.3L357.3 2710.7M210.7 2698.7L233.3 2721.3M210.7 2721.3L233.3 2698.7M736.7 2350.7L759.3 2373.3M736.7 2373.3L759.3 2350.7M822.7 2374.7L845.3 2397.3M822.7 2397.3L845.3 2374.7M722.7 2390.7L745.3 2413.3M722.7 2413.3L745.3 2390.7M722.7 2450.7L745.3 2473.3M722.7 2473.3L745.3 2450.7M746.7 2434.7L769.3 2457.3M746.7 2457.3L769.3 2434.7M766.7 2422.7L789.3 2445.3M766.7 2445.3L789.3 2422.7M758.7 2446.7L781.3 2469.3M758.7 2469.3L781.3 2446.7M796.7 2498.7L819.3 2521.3M796.7 2521.3L819.3 2498.7M786.7 2478.7L809.3 2501.3M786.7 2501.3L809.3 2478.7M834.7 2426.7L857.3 2449.3M834.7 2449.3L857.3 2426.7M866.7 2440.7L889.3 2463.3M866.7 2463.3L889.3 2440.7M846.7 2438.7L869.3 2461.3M846.7 2461.3L869.3 2438.7M838.7 2514.7L861.3 2537.3M838.7 2537.3L861.3 2514.7M854.7 2530.7L877.3 2553.3M854.7 2553.3L877.3 2530.7M866.7 2562.7L889.3 2585.3M866.7 2585.3L889.3 2562.7M866.7 2590.7L889.3 2613.3M866.7 2613.3L889.3 2590.7M854.7 2590.7L877.3 2613.3M854.7 2613.3L877.3 2590.7M882.7 2614.7L905.3 2637.3M882.7 2637.3L905.3 2614.7M874.7 2594.7L897.3 2617.3M874.7 2617.3L897.3 2594.7M890.7 2558.7L913.3 2581.3M890.7 2581.3L913.3 2558.7M890.7 2418.7L913.3 2441.3M890.7 2441.3L913.3 2418.7M894.7 2518.7L917.3 2541.3M894.7 2541.3L917.3 2518.7M914.7 2498.7L937.3 2521.3M914.7 2521.3L937.3 2498.7M922.7 2542.7L945.3 2565.3M922.7 2565.3L945.3 2542.7M930.7 2590.7L953.3 2613.3M930.7 2613.3L953.3 2590.7M940.7 2346.7L963.3 2369.3M940.7 2369.3L963.3 2346.7M958.7 2354.7L981.3 2377.3M958.7 2377.3L981.3 2354.7M936.7 2438.7L959.3 2461.3M936.7 2461.3L959.3 2438.7M946.7 2518.7L969.3 2541.3M946.7 2541.3L969.3 2518.7M958.7 2534.7L981.3 2557.3M958.7 2557.3L981.3 2534.7M962.7 2606.7L985.3 2629.3M962.7 2629.3L985.3 2606.7M982.7 2570.7L1005.3 2593.3M982.7 2593.3L1005.3 2570.7M988.7 2430.7L1011.3 2453.3M988.7 2453.3L1011.3 2430.7M998.7 2398.7L1021.3 2421.3M998.7 2421.3L1021.3 2398.7M1002.7 2606.7L1025.3 2629.3M1002.7 2629.3L1025.3 2606.7M998.7 2598.7L1021.3 2621.3M998.7 2621.3L1021.3 2598.7M1034.7 2410.7L1057.3 2433.3M1034.7 2433.3L1057.3 2410.7M1026.7 2434.7L1049.3 2457.3M1026.7 2457.3L1049.3 2434.7M1042.7 2506.7L1065.3 2529.3M1042.7 2529.3L1065.3 2506.7M1058.7 2510.7L1081.3 2533.3M1058.7 2533.3L1081.3 2510.7M1176.7 2374.7L1199.3 2397.3M1176.7 2397.3L1199.3 2374.7M1174.7 2378.7L1197.3 2401.3M1174.7 2401.3L1197.3 2378.7M1186.7 2502.7L1209.3 2525.3M1186.7 2525.3L1209.3 2502.7M1194.7 2506.7L1217.3 2529.3M1194.7 2529.3L1217.3 2506.7M1202.7 2510.7L1225.3 2533.3M1202.7 2533.3L1225.3 2510.7M1210.7 2506.7L1233.3 2529.3M1210.7 2529.3L1233.3 2506.7M1230.7 2474.7L1253.3 2497.3M1230.7 2497.3L1253.3 2474.7M1238.7 2478.7L1261.3 2501.3M1238.7 2501.3L1261.3 2478.7M1258.7 2430.7L1281.3 2453.3M1258.7 2453.3L1281.3 2430.7M1234.7 2562.7L1257.3 2585.3M1234.7 2585.3L1257.3 2562.7M1230.7 2598.7L1253.3 2621.3M1230.7 2621.3L1253.3 2598.7M1238.7 2598.7L1261.3 2621.3M1238.7 2621.3L1261.3 2598.7M1254.7 2626.7L1277.3 2649.3M1254.7 2649.3L1277.3 2626.7M1166.7 2678.7L1189.3 2701.3M1166.7 2701.3L1189.3 2678.7M1178.7 2490.7L1201.3 2513.3M1178.7 2513.3L1201.3 2490.7M1194.7 2474.7L1217.3 2497.3M1194.7 2497.3L1217.3 2474.7M1315.4 2384.7L1338 2407.3M1315.4 2407.3L1338 2384.7M1372.3 2405L1394.9 2427.6M1372.3 2427.6L1394.9 2405M1327.6 2431.4L1350.2 2454M1327.6 2454L1350.2 2431.4M1361.1 2438.5L1383.7 2461.1M1361.1 2461.1L1383.7 2438.5M1263.7 2425.3L1286.3 2447.9M1263.7 2447.9L1286.3 2425.3M1284 2436.4L1306.6 2459M1284 2459L1306.6 2436.4M1272.8 2434.4L1295.4 2457M1272.8 2457L1295.4 2434.4M1446.4 2458.8L1469 2481.4M1446.4 2481.4L1469 2458.8M1448.4 2468.9L1471 2491.5M1448.4 2491.5L1471 2468.9M1346.9 2487.2L1369.5 2509.8M1346.9 2509.8L1369.5 2487.2M1324.6 2505.5L1347.2 2528.1M1324.6 2528.1L1347.2 2505.5M1336.7 2501.4L1359.3 2524M1336.7 2524L1359.3 2501.4M1348.9 2552.2L1371.5 2574.8M1348.9 2574.8L1371.5 2552.2M1288 2586.7L1310.6 2609.3M1288 2609.3L1310.6 2586.7M1320.5 2590.7L1343.1 2613.3M1320.5 2613.3L1343.1 2590.7M1357 2592.8L1379.6 2615.4M1357 2615.4L1379.6 2592.8M1405.8 2515.6L1428.4 2538.2M1405.8 2538.2L1428.4 2515.6M1401.7 2554.2L1424.3 2576.8M1401.7 2576.8L1424.3 2554.2M1415.9 2544L1438.5 2566.6M1415.9 2566.6L1438.5 2544M1442.3 2562.3L1464.9 2584.9M1442.3 2584.9L1464.9 2562.3M1456.5 2570.4L1479.1 2593M1456.5 2593L1479.1 2570.4M1460.6 2521.7L1483.2 2544.3M1460.6 2544.3L1483.2 2521.7M1369.2 2564.3L1391.8 2586.9M1369.2 2586.9L1391.8 2564.3M1375.3 2578.5L1397.9 2601.1M1375.3 2601.1L1397.9 2578.5M1391.6 2582.6L1414.2 2605.2M1391.6 2605.2L1414.2 2582.6M1401.7 2598.8L1424.3 2621.4M1401.7 2621.4L1424.3 2598.8M1411.9 2592.8L1434.5 2615.4M1411.9 2615.4L1434.5 2592.8M1417.9 2596.8L1440.5 2619.4M1417.9 2619.4L1440.5 2596.8M1428.1 2590.7L1450.7 2613.3M1428.1 2613.3L1450.7 2590.7M1296.1 2531.9L1318.7 2554.5M1296.1 2554.5L1318.7 2531.9M1304.3 2527.8L1326.9 2550.4M1304.3 2550.4L1326.9 2527.8M1312.4 2531.9L1335 2554.5M1312.4 2554.5L1335 2531.9M1340.8 2537.9L1363.4 2560.5M1340.8 2560.5L1363.4 2537.9M1259.6 2558.2L1282.2 2580.8M1259.6 2580.8L1282.2 2558.2M1265.7 2546.1L1288.3 2568.7M1265.7 2568.7L1288.3 2546.1M349.1 2185L371.7 2207.6M349.1 2207.6L371.7 2185M347.6 2206.5L370.2 2229.1M347.6 2229.1L370.2 2206.5M437.4 2247L460 2269.6M437.4 2269.6L460 2247M484.2 2285.3L506.8 2307.9M484.2 2307.9L506.8 2285.3M529.1 2278.1L551.7 2300.7M529.1 2300.7L551.7 2278.1M669 2230.3L691.6 2252.9M669 2252.9L691.6 2230.3M673.8 2230.3L696.4 2252.9M673.8 2252.9L696.4 2230.3M720.6 2195.5L743.2 2218.1M720.6 2218.1L743.2 2195.5M798 2309.1L820.6 2331.7M798 2331.7L820.6 2309.1M819.5 2294.8L842.1 2317.4M819.5 2317.4L842.1 2294.8M945.3 2267.3L967.9 2289.9M945.3 2289.9L967.9 2267.3M912.8 2298.9L935.4 2321.5M912.8 2321.5L935.4 2298.9M1046.7 2290.2L1069.3 2312.8M1046.7 2312.8L1069.3 2290.2M1417.5 2298.4L1440.1 2321M1417.5 2321L1440.1 2298.4M1462.9 2235.2L1485.5 2257.8M1462.9 2257.8L1485.5 2235.2" stroke="#f020e6" stroke-width="1.7" fill="none"/>
<polyline points="198,2574 202,2586 206,2598 210,2610 214,2618 218,2626 222,2634 226,2642 230,2646 234,2650 238,2654 242,2656 246,2654 250,2662 254,2662 258,2662 262,2670 266,2678 270,2680 274,2682 278,2684 280,2682 282,2654 284,2602 286,2582 288,2594 290,2618 292,2626 294,2634 296,2614 298,2590 300,2570 302,2530 304,2498 306,2482 308,2478 310,2490 312,2510 314,2530 318,2554 322,2570 326,2578 330,2590 334,2602 338,2610 342,2622 346,2634 350,2642 352,2610 354,2562 356,2498 358,2442 360,2438 362,2446 364,2470 366,2498 370,2522 374,2538 378,2554 382,2566 386,2582 390,2598 394,2610 398,2618 402,2622 406,2626 410,2634 414,2626 416,2602 418,2594 420,2602 422,2610 426,2618 430,2626 434,2618 436,2606 438,2602 442,2610 446,2618 450,2622 454,2630 458,2634 462,2638 466,2638 470,2634 474,2638 476,2638 478,2594 480,2530 482,2526 484,2534 486,2546 490,2558 494,2570 498,2582 502,2590 504,2570 506,2558 508,2566 510,2570 514,2586 518,2594 522,2602 526,2610 530,2614 534,2618 538,2618 542,2622 546,2624 550,2626 552,2622 554,2570 556,2530 558,2522 560,2530 562,2546 564,2502 566,2454 568,2470 570,2474 572,2482 574,2490 576,2498 578,2506 580,2510 582,2514 586,2518 590,2522 594,2522 598,2518 602,2522 606,2526 608,2518 610,2506 612,2482 614,2462 616,2470 618,2482 622,2490 626,2494 628,2470 630,2430 632,2390 634,2362 636,2390 638,2430 640,2482 642,2470 644,2450 646,2466 650,2474 654,2470 656,2446 658,2430 660,2422 662,2426 664,2450 666,2462 668,2442 670,2426 672,2422 674,2434 676,2414 678,2394 680,2386 682,2382 684,2402 686,2418 690,2430 694,2434 698,2442 702,2450 706,2458 710,2462 712,2454 714,2450 716,2434 718,2430 722,2410 726,2394 730,2402 734,2418" fill="none" stroke="#ff0000" stroke-width="3" stroke-linejoin="round" stroke-linecap="square"/>
<polyline points="734,2418 738,2442 742,2450 744,2454 746,2410 748,2362 750,2350 752,2370 754,2402 756,2406 758,2386 760,2378 762,2390 764,2378 766,2382 768,2370 770,2382 772,2390 774,2402 778,2410 782,2418 784,2410 786,2378 788,2374 790,2390 794,2410 798,2426 802,2442 806,2454 808,2442 810,2394 812,2370 814,2382 816,2406 818,2422 820,2398 822,2370 824,2362 826,2386 828,2410 830,2418 832,2422 834,2422 836,2414 838,2430 842,2442 846,2454 850,2466 854,2482 858,2486 860,2490 862,2506 866,2522 870,2530 874,2538 878,2550 882,2562 886,2574 888,2582 890,2570 892,2562 894,2566 896,2574 898,2586 900,2594 902,2598 904,2554 906,2490 908,2442 910,2382 912,2394 914,2434 916,2450 918,2458 922,2474 926,2486 930,2498 934,2510 938,2522 942,2538 946,2554 948,2530 950,2450 952,2454 954,2466 958,2482 962,2490 966,2506 970,2522 974,2538 978,2558 982,2578 984,2554 986,2482 988,2466 990,2474 994,2490 998,2514 1002,2538 1006,2562 1010,2586 1014,2602 1016,2598 1018,2582 1020,2554 1022,2514 1024,2498 1026,2482 1028,2474 1030,2474 1032,2482 1034,2490 1036,2474 1038,2498 1040,2502 1042,2514 1044,2506 1046,2450 1048,2398 1050,2430 1052,2474 1054,2490 1056,2494 1058,2498 1060,2506 1062,2506 1064,2514 1066,2522 1068,2522 1070,2514 1072,2518 1074,2506 1076,2494 1078,2502 1082,2522 1086,2534 1090,2546 1094,2562 1098,2578 1102,2598 1106,2614 1110,2626 1114,2638 1118,2646 1122,2654 1126,2658 1130,2654 1134,2642 1136,2618 1138,2594 1140,2582 1142,2594 1144,2598 1146,2594 1148,2610 1150,2618 1152,2570 1154,2502 1156,2522 1158,2554 1162,2594 1166,2622 1170,2634 1174,2638 1178,2642 1182,2646 1184,2602 1186,2530 1188,2470 1190,2430 1192,2406 1194,2422 1196,2454 1198,2482 1200,2466 1202,2450 1204,2458 1206,2462 1208,2482 1210,2490 1212,2482 1214,2466 1216,2454 1218,2446 1220,2462 1222,2446 1224,2442 1226,2450 1228,2430 1230,2434 1232,2470 1234,2482 1236,2490 1238,2506 1240,2530 1242,2546 1246,2554 1250,2562 1254,2570 1258,2578 1262,2590 1266,2602 1270,2610" fill="none" stroke="#ff0000" stroke-width="3" stroke-linejoin="round" stroke-linecap="square"/>
<polyline points="1270.1,2614.2 1270.9,2593.9 1271.9,2553.3 1272.9,2522.9 1275,2512.7 1277,2516.8 1279,2524.9 1281.1,2512.7 1283.1,2508.6 1285.1,2516.8 1287.1,2524.9 1289.2,2533 1291.2,2541.1 1293.2,2549.2 1295.3,2553.3 1297.3,2561.4 1299.3,2549.2 1301.4,2541.1 1303.4,2537.1 1305.4,2533 1307.4,2528.9 1309.5,2524.9 1311.5,2524.9 1313.5,2528.9 1315.6,2537.1 1317.6,2549.2 1319.6,2561.4 1321.7,2573.6 1323.7,2585.8 1325.7,2587.8 1327.7,2589.8 1329.8,2593.9 1331.8,2598 1333.8,2600 1335.9,2602 1337.9,2606.1 1339.9,2608.1 1342,2610.1 1344,2608.1 1346,2600" fill="none" stroke="#ff0000" stroke-width="3" stroke-linejoin="round" stroke-linecap="square"/>
<polyline points="1390.7,2610.1 1392.7,2612.2 1394.7,2614.2 1396.8,2616.2 1398.8,2618.3 1400.8,2618.3 1402.9,2618.3 1404.9,2612.2 1406.9,2610.1 1408.9,2610.1 1411,2614.2 1413,2618.3 1415,2622.3 1417.1,2624.4 1419.1,2626.4 1421.1,2628.4 1423.2,2630.4 1425.2,2632.5 1427.2,2630.4 1429.2,2626.4 1431.3,2614.2 1433.3,2606.1 1435.3,2608.1 1437.4,2612.2 1439.4,2616.2 1441.4,2618.3 1443.5,2620.3 1445.5,2622.3 1447.5,2624.4 1449.5,2626.4 1451.6,2626.4 1453.6,2614.2 1455.6,2553.3 1457.7,2516.8 1459.7,2508.6 1461.7,2512.7 1463.8,2533 1465.8,2549.2 1467.8,2557.4 1469.8,2565.5 1471.9,2569.5 1473.9,2573.6 1475.9,2575.6 1481,2577.7" fill="none" stroke="#ff0000" stroke-width="3" stroke-linejoin="round" stroke-linecap="square"/>
<polyline points="198,2618 201.2,2622 204,2634 206.8,2630 209.2,2642 212,2666 214,2650 216,2638 218.8,2650 221.2,2642 224,2646 226,2642" fill="none" stroke="#0000ff" stroke-width="3.4" stroke-linejoin="round" stroke-linecap="square"/>
<polyline points="230.8,2658 233.2,2682 234.8,2662 236.8,2674 238.8,2658 241.2,2662 244,2670" fill="none" stroke="#0000ff" stroke-width="3.4" stroke-linejoin="round" stroke-linecap="square"/>
<polyline points="276,2654 278,2650 280,2654 282,2610 284,2554 286,2534 288,2590 290,2622 292,2602 294,2610 296,2634 298,2586 300,2554 302,2530 304,2506 306,2546 308,2530 310,2522 312,2530 314,2566 316,2570 318,2554 320,2586 322,2574 324,2546 326,2554 328,2586 330,2602 332,2606 334,2602 336,2606 338,2594 340,2578 342,2606 344,2602 346,2606 348,2606 350,2602 352,2586 354,2538 356,2510 358,2490 360,2502 362,2482 364,2514 366,2522 368,2530 370,2538 372,2546 374,2558 376,2566 378,2570 380,2574 382,2566 384,2554 386,2534 388,2570 390,2586 392,2566 394,2590 396,2610 398,2642 400,2606 402,2570 404,2562 406,2578 408,2570 410,2554 412,2574 414,2490 416,2550 418,2570 420,2566 422,2578 424,2570 426,2562 428,2570 430,2578 432,2570 434,2554 436,2526 438,2562 440,2570 442,2578 444,2562 446,2558 448,2570 450,2562 452,2578 454,2570 456,2606 458,2578 460,2570 462,2582 464,2578 466,2586 468,2590 470,2586 472,2594 474,2594 476,2570 478,2538 480,2506 482,2518 484,2530 486,2534 488,2538 490,2546 492,2554 494,2562 496,2558 498,2558 500,2558 502,2554 504,2538 506,2526 508,2522 510,2554 512,2554 514,2554 516,2554 518,2562 520,2562 522,2570 524,2570 526,2578 528,2570 530,2586 532,2570 534,2578 536,2594 538,2566 540,2590 542,2574 544,2570 546,2578 548,2570 550,2586 552,2606 554,2530 556,2490 558,2498 560,2486 562,2518 564,2450 566,2410 568,2434 570,2482 572,2478 574,2490 576,2498 578,2490 580,2502 582,2506 584,2498 586,2510 588,2518 590,2530 592,2506 594,2502 596,2514 598,2518 600,2514 602,2506 604,2522 606,2526 608,2510 610,2522 612,2466 614,2482 616,2498 618,2474 620,2490 622,2498 624,2482 626,2506 628,2490 630,2514 632,2482 634,2474 636,2498 638,2506 640,2482 642,2498 644,2490 646,2498 648,2482 650,2490 652,2498 654,2586 656,2490 658,2478 660,2486 662,2474 664,2494 666,2482 668,2490 670,2470 672,2506 674,2462 676,2482 678,2490 680,2470 682,2482 684,2478 686,2474 688,2490 690,2482 692,2506 694,2514 696,2490 698,2502 700,2498 702,2506 704,2494 706,2502 708,2482 710,2510 712,2490 714,2502 716,2494 718,2506 720,2482 722,2498 724,2474 726,2490 728,2498 730,2506 732,2498 734,2502" fill="none" stroke="#0000ff" stroke-width="3.4" stroke-linejoin="round" stroke-linecap="square"/>
<polyline points="734,2502 736,2482 738,2498 740,2514 742,2482 744,2518 746,2490 748,2482 750,2478 752,2498 754,2482 756,2478 758,2490 760,2482 762,2474 764,2490 766,2502 768,2518 770,2490 772,2482 774,2478 776,2486 778,2482 780,2470 782,2490 784,2522 786,2470 788,2466 790,2482 792,2490 794,2474 796,2482 798,2490 800,2478 802,2498 804,2482 806,2490 808,2486 810,2482 812,2490 814,2482 816,2486 818,2482 820,2490 822,2482 824,2486 826,2490 828,2494 830,2514 832,2486 834,2478 836,2490 838,2482 840,2498 842,2490 844,2506 846,2502 848,2514 850,2502 852,2510 854,2506 856,2518 858,2506 860,2526 862,2510 864,2518 866,2522 868,2526 870,2518 872,2522 874,2526 876,2514 878,2518 880,2506 882,2514 884,2490 886,2530 888,2538 890,2530 892,2554 894,2566 896,2530 898,2546 900,2554 902,2562 904,2522 906,2490 908,2410 910,2442 912,2478 914,2466 916,2474 918,2482 920,2474 922,2490 924,2482 926,2498 928,2490 930,2482 932,2494 934,2490 936,2498 938,2494 940,2502 942,2498" fill="none" stroke="#0000ff" stroke-width="3.4" stroke-linejoin="round" stroke-linecap="square"/>
<polyline points="950,2430 952,2442 954,2462 956,2474 958,2478 960,2486 962,2470 964,2482 966,2486 968,2478 970,2490 972,2474 974,2466 976,2482 978,2474 980,2490 982,2470 984,2482 986,2474 988,2454 990,2474 992,2466 994,2482 996,2478 998,2490 1000,2482 1002,2494 1004,2506 1006,2490 1008,2498 1010,2482 1012,2498 1014,2490 1016,2482 1018,2450 1020,2410 1022,2434 1024,2446 1026,2462 1028,2478 1030,2466 1032,2458 1034,2474 1036,2462 1038,2482 1040,2490 1042,2474 1044,2402 1046,2450 1048,2474 1050,2490 1052,2494 1054,2502 1056,2498 1058,2514 1060,2506 1062,2498 1064,2490 1066,2498 1068,2514 1070,2522 1072,2498 1074,2506 1076,2490 1078,2506 1080,2498 1082,2514 1084,2502 1086,2498 1088,2514 1090,2538 1092,2530 1094,2534 1096,2542 1098,2538 1100,2542 1102,2530 1104,2550 1106,2546 1108,2554 1110,2562 1112,2558 1114,2562 1116,2558 1118,2562 1120,2558 1122,2554 1124,2538 1126,2514 1128,2494 1130,2518 1132,2554 1134,2570 1136,2530 1138,2482 1140,2446 1142,2482 1144,2522 1146,2538 1148,2546 1150,2554 1152,2566 1154,2542 1156,2530 1158,2554 1160,2538 1162,2526 1164,2546 1166,2554 1168,2570 1170,2578 1172,2602 1174,2586 1176,2578 1178,2570 1180,2562 1182,2578 1184,2586 1186,2490 1188,2474 1190,2498 1192,2490 1194,2498 1196,2506 1198,2490 1200,2502 1202,2506 1204,2490 1206,2506 1208,2462 1210,2422 1212,2506 1214,2498 1216,2502 1218,2482 1220,2510 1222,2490 1224,2498 1226,2506 1228,2494 1230,2506 1232,2514 1234,2506 1236,2518 1238,2514 1240,2530 1242,2522 1244,2534 1246,2530 1248,2514 1250,2538 1252,2550 1254,2546 1256,2550 1258,2542 1260,2550 1262,2546 1266,2538 1270,2546" fill="none" stroke="#0000ff" stroke-width="3.4" stroke-linejoin="round" stroke-linecap="square"/>
<polyline points="1270.1,2569.5 1270.9,2553.3 1271.9,2512.7 1272.9,2472.1 1273.9,2455.9 1275,2449.8 1276,2459.9 1277,2472.1 1278,2484.3 1279,2492.4 1280,2488.3 1281.1,2496.5 1282.1,2504.6 1283.1,2508.6 1284.1,2504.6 1285.1,2512.7 1287.1,2520.8 1289.2,2528.9 1291.2,2533 1293.2,2537.1 1295.3,2528.9 1297.3,2512.7 1299.3,2516.8 1301.4,2508.6 1303.4,2488.3 1305.4,2512.7 1307.4,2518.8 1309.5,2500.5 1311.5,2496.5 1313.5,2520.8 1315.6,2524.9 1317.6,2518.8 1319.6,2522.9 1321.7,2520.8 1323.7,2528.9 1325.7,2524.9 1327.7,2533 1329.8,2543.2 1331.8,2549.2 1333.8,2553.3 1335.9,2557.4 1337.9,2545.2 1339.9,2539.1 1342,2553.3 1344,2557.4 1346,2541.1 1348,2553.3 1350.1,2522.9 1352.1,2508.6 1354.1,2492.4 1356.2,2488.3 1358.2,2512.7 1360.2,2522.9 1362.3,2524.9 1364.3,2531 1366.3,2533 1368.3,2539.1 1370.4,2545.2 1372.4,2549.2 1374.4,2531 1376.5,2516.8 1378.5,2508.6" fill="none" stroke="#0000ff" stroke-width="3.4" stroke-linejoin="round" stroke-linecap="square"/>
<polyline points="1382.6,2549.2 1384.6,2547.2 1386.6,2545.2 1388.6,2543.2 1390.7,2535 1392.7,2541.1 1394.7,2553.3 1396.8,2545.2 1398.8,2553.3 1400.8,2545.2 1402.9,2533 1404.9,2524.9 1406.9,2526.9 1408.9,2524.9 1411,2528.9 1413,2533 1415,2541.1 1417.1,2549.2 1419.1,2557.4 1421.1,2569.5 1423.2,2573.6 1425.2,2571.6 1427.2,2565.5 1429.2,2533 1431.3,2508.6 1433.3,2500.5 1435.3,2512.7 1437.4,2518.8 1439.4,2533 1441.4,2553.3 1443.5,2563.5 1445.5,2579.7 1447.5,2563.5 1449.5,2549.2 1451.6,2533 1453.6,2504.6 1455.6,2476.2 1457.7,2468 1459.7,2472.1 1461.7,2492.4 1463.8,2508.6 1465.8,2522.9 1467.8,2526.9 1469.8,2533 1471.9,2524.9 1473.9,2516.8 1475.9,2512.7 1481,2508.6" fill="none" stroke="#0000ff" stroke-width="3.4" stroke-linejoin="round" stroke-linecap="square"/>
</g>
<path d="M198.0 2728.50h14.5M1479.0 2728.50h-14.5M198.0 2638.38h14.5M1479.0 2638.38h-14.5M198.0 2548.25h14.5M1479.0 2548.25h-14.5M198.0 2458.12h14.5M1479.0 2458.12h-14.5M198.0 2368.00h14.5M1479.0 2368.00h-14.5M198.0 2277.88h14.5M1479.0 2277.88h-14.5M198.0 2187.75h14.5M1479.0 2187.75h-14.5M198.0 2097.62h14.5M1479.0 2097.62h-14.5M198.0 2007.50h14.5M1479.0 2007.50h-14.5M274.20 2007.5v14.5M274.20 2728.5v-14.5M420.86 2007.5v14.5M420.86 2728.5v-14.5M572.50 2007.5v14.5M572.50 2728.5v-14.5M724.13 2007.5v14.5M724.13 2728.5v-14.5M875.76 2007.5v14.5M875.76 2728.5v-14.5M1027.40 2007.5v14.5M1027.40 2728.5v-14.5M1181.52 2007.5v14.5M1181.52 2728.5v-14.5M1328.18 2007.5v14.5M1328.18 2728.5v-14.5" stroke="#000" stroke-width="1.8" fill="none"/>
<rect x="198.0" y="2007.5" width="1281.0" height="721.0" fill="none" stroke="#000" stroke-width="3.0"/>
<rect x="313.2" y="2026.7" width="1145.3999999999999" height="68.60000000000014" rx="6.5" ry="6.5" fill="#fff" stroke="#000" stroke-width="3.1"/>
<line x1="338.5" y1="2058.3" x2="395.8" y2="2058.3" stroke="#0000ff" stroke-width="3"/>
<circle cx="596" cy="2058.6000000000004" r="6.8" fill="#008000"/><circle cx="650.3" cy="2058.6000000000004" r="6.8" fill="#008000"/>
<path d="M905.0 2047.7l22.6 22.6m0 -22.6l-22.6 22.6M958.9000000000001 2047.7l22.6 22.6m0 -22.6l-22.6 22.6" stroke="#f020e6" stroke-width="1.7" fill="none"/>
<line x1="1235.3" y1="2058.3" x2="1292" y2="2058.3" stroke="#ff0000" stroke-width="3"/>
<text class="t" x="434.0" y="2071.5" font-size="38.3">ECV</text>
<text class="t" x="690.5" y="2071.5" font-size="38.3">SMOSA</text>
<text class="t" x="1010.5" y="2071.5" font-size="38.3">SMOSD</text>
<text class="t" x="1328.9" y="2071.5" font-size="38.3">In-situ</text>
<text class="t" transform="translate(184.2 2740.90) scale(1.055 1)" font-size="43.5" text-anchor="end">0.0</text>
<text class="t" transform="translate(184.2 2650.78) scale(1.055 1)" font-size="43.5" text-anchor="end">0.1</text>
<text class="t" transform="translate(184.2 2560.65) scale(1.055 1)" font-size="43.5" text-anchor="end">0.2</text>
<text class="t" transform="translate(184.2 2470.53) scale(1.055 1)" font-size="43.5" text-anchor="end">0.3</text>
<text class="t" transform="translate(184.2 2380.40) scale(1.055 1)" font-size="43.5" text-anchor="end">0.4</text>
<text class="t" transform="translate(184.2 2290.28) scale(1.055 1)" font-size="43.5" text-anchor="end">0.5</text>
<text class="t" transform="translate(184.2 2200.15) scale(1.055 1)" font-size="43.5" text-anchor="end">0.6</text>
<text class="t" transform="translate(184.2 2110.03) scale(1.055 1)" font-size="43.5" text-anchor="end">0.7</text>
<text class="t" transform="translate(184.2 2019.90) scale(1.055 1)" font-size="43.5" text-anchor="end">0.8</text>
<text class="t" x="272.90" y="2773.10" font-size="46" text-anchor="end" transform="rotate(-30 272.90 2773.10)">Feb 2010</text>
<text class="t" x="419.56" y="2773.10" font-size="46" text-anchor="end" transform="rotate(-30 419.56 2773.10)">Apr 2010</text>
<text class="t" x="571.20" y="2773.10" font-size="46" text-anchor="end" transform="rotate(-30 571.20 2773.10)">Jun 2010</text>
<text class="t" x="722.83" y="2773.10" font-size="46" text-anchor="end" transform="rotate(-30 722.83 2773.10)">Aug 2010</text>
<text class="t" x="874.46" y="2773.10" font-size="46" text-anchor="end" transform="rotate(-30 874.46 2773.10)">Oct 2010</text>
<text class="t" x="1026.10" y="2773.10" font-size="46" text-anchor="end" transform="rotate(-30 1026.10 2773.10)">Dec 2010</text>
<text class="t" x="1180.22" y="2773.10" font-size="46" text-anchor="end" transform="rotate(-30 1180.22 2773.10)">Feb 2011</text>
<text class="t" x="1326.88" y="2773.10" font-size="46" text-anchor="end" transform="rotate(-30 1326.88 2773.10)">Apr 2011</text>
<text class="mono" x="838.3" y="1989.0" font-size="76.5" text-anchor="middle">Kyeamba</text>
<g transform="translate(81.5 2676.00) rotate(-90)">
<text class="t" x="-3.8" y="0" font-size="57">Soil Mositure</text>
<text class="t" x="380" y="0" font-size="57">[</text>
<text class="mi" transform="translate(398 1.2) scale(1.252 1)" x="0" y="0" font-size="59">m</text>
<text class="mi" transform="translate(488.2 1.2) scale(1.252 1)" x="0" y="0" font-size="59">m</text>
<text x="451" y="-22.2" font-size="41.4" class="sr">3</text>
<text transform="translate(540.5 -20.4) scale(1.35 1)" x="0" y="0" font-size="41.4" class="sr">&#8722;</text>
<text x="570.8" y="-22.2" font-size="41.4" class="sr">3</text>
<text class="t" x="602" y="0" font-size="57">]</text>
</g>
</svg></body></html>
